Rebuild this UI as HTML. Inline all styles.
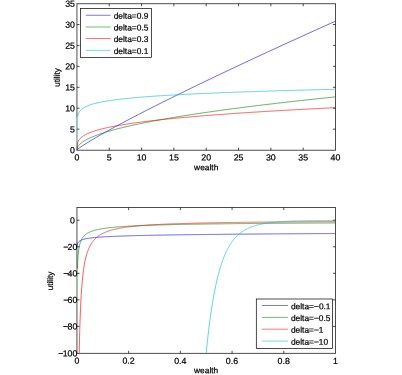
<!DOCTYPE html>
<html><head><meta charset="utf-8"><title>utility</title>
<style>html,body{margin:0;padding:0;background:#fff}svg{display:block}</style></head>
<body>
<svg width="402" height="375" viewBox="0 0 402 375">
<defs><filter id="gs" x="0" y="0" width="402" height="375" filterUnits="userSpaceOnUse" color-interpolation-filters="sRGB"><feColorMatrix type="saturate" values="0"/></filter></defs>
<rect width="402" height="375" fill="#fff"/>
<path d="M109.25 150.25 v-2.6 M109.25 3.7 v2.6 M141.57 150.25 v-2.6 M141.57 3.7 v2.6 M173.89 150.25 v-2.6 M173.89 3.7 v2.6 M206.22 150.25 v-2.6 M206.22 3.7 v2.6 M238.54 150.25 v-2.6 M238.54 3.7 v2.6 M270.86 150.25 v-2.6 M270.86 3.7 v2.6 M303.18 150.25 v-2.6 M303.18 3.7 v2.6 M76.93 129.16 h2.6 M335.5 129.16 h-2.6 M76.93 108.23 h2.6 M335.5 108.23 h-2.6 M76.93 87.29 h2.6 M335.5 87.29 h-2.6 M76.93 66.36 h2.6 M335.5 66.36 h-2.6 M76.93 45.42 h2.6 M335.5 45.42 h-2.6 M76.93 24.49 h2.6 M335.5 24.49 h-2.6" stroke="#000" stroke-width="0.7" fill="none"/>
<path d="M76.58 3.7 H335.85 M76.58 150.25 H335.85 M335.5 3.7 V150.25 M76.93 3.7 V117.61 M76.93 149.85 V150.25" stroke="#000" stroke-width="0.7" fill="none"/>
<path d="M76.93 149.85 L77.58 149.26 L78.22 148.76 L78.87 148.28 L79.52 147.81 L80.16 147.36 L80.81 146.91 L81.45 146.48 L82.1 146.04 L82.75 145.62 L83.39 145.2 L84.04 144.78 L84.69 144.37 L85.33 143.96 L85.98 143.55 L86.63 143.15 L87.27 142.75 L87.92 142.35 L88.57 141.95 L89.21 141.56 L89.86 141.17 L90.5 140.78 L91.15 140.39 L91.8 140 L92.44 139.62 L93.09 139.24 L93.74 138.86 L94.38 138.48 L95.03 138.1 L95.68 137.72 L96.32 137.34 L96.97 136.97 L97.62 136.6 L98.26 136.22 L98.91 135.85 L99.55 135.48 L100.2 135.12 L100.85 134.75 L101.49 134.38 L102.14 134.01 L102.79 133.65 L103.43 133.29 L104.08 132.92 L104.73 132.56 L105.37 132.2 L106.02 131.84 L106.67 131.48 L107.31 131.12 L107.96 130.76 L108.6 130.4 L109.25 130.05 L109.9 129.69 L110.54 129.33 L111.19 128.98 L111.84 128.63 L112.48 128.27 L113.13 127.92 L113.78 127.57 L114.42 127.22 L115.07 126.87 L115.72 126.51 L116.36 126.17 L117.01 125.82 L117.65 125.47 L118.3 125.12 L118.95 124.77 L119.59 124.42 L120.24 124.08 L120.89 123.73 L121.53 123.39 L122.18 123.04 L122.83 122.7 L123.47 122.35 L124.12 122.01 L124.77 121.67 L125.41 121.32 L126.06 120.98 L126.7 120.64 L127.35 120.3 L128 119.96 L128.64 119.62 L129.29 119.28 L129.94 118.94 L130.58 118.6 L131.23 118.26 L131.88 117.92 L132.52 117.59 L133.17 117.25 L133.82 116.91 L134.46 116.57 L135.11 116.24 L135.75 115.9 L136.4 115.57 L137.05 115.23 L137.69 114.9 L138.34 114.56 L138.99 114.23 L139.63 113.89 L140.28 113.56 L140.93 113.23 L141.57 112.89 L142.22 112.56 L142.87 112.23 L143.51 111.9 L144.16 111.57 L144.8 111.24 L145.45 110.91 L146.1 110.57 L146.74 110.24 L147.39 109.91 L148.04 109.58 L148.68 109.26 L149.33 108.93 L149.98 108.6 L150.62 108.27 L151.27 107.94 L151.92 107.61 L152.56 107.29 L153.21 106.96 L153.85 106.63 L154.5 106.3 L155.15 105.98 L155.79 105.65 L156.44 105.33 L157.09 105 L157.73 104.68 L158.38 104.35 L159.03 104.03 L159.67 103.7 L160.32 103.38 L160.97 103.05 L161.61 102.73 L162.26 102.4 L162.9 102.08 L163.55 101.76 L164.2 101.44 L164.84 101.11 L165.49 100.79 L166.14 100.47 L166.78 100.15 L167.43 99.82 L168.08 99.5 L168.72 99.18 L169.37 98.86 L170.02 98.54 L170.66 98.22 L171.31 97.9 L171.95 97.58 L172.6 97.26 L173.25 96.94 L173.89 96.62 L174.54 96.3 L175.19 95.98 L175.83 95.66 L176.48 95.34 L177.13 95.03 L177.77 94.71 L178.42 94.39 L179.07 94.07 L179.71 93.75 L180.36 93.44 L181 93.12 L181.65 92.8 L182.3 92.49 L182.94 92.17 L183.59 91.85 L184.24 91.54 L184.88 91.22 L185.53 90.9 L186.18 90.59 L186.82 90.27 L187.47 89.96 L188.12 89.64 L188.76 89.33 L189.41 89.01 L190.05 88.7 L190.7 88.38 L191.35 88.07 L191.99 87.76 L192.64 87.44 L193.29 87.13 L193.93 86.81 L194.58 86.5 L195.23 86.19 L195.87 85.87 L196.52 85.56 L197.17 85.25 L197.81 84.94 L198.46 84.62 L199.1 84.31 L199.75 84 L200.4 83.69 L201.04 83.38 L201.69 83.07 L202.34 82.75 L202.98 82.44 L203.63 82.13 L204.28 81.82 L204.92 81.51 L205.57 81.2 L206.22 80.89 L206.86 80.58 L207.51 80.27 L208.15 79.96 L208.8 79.65 L209.45 79.34 L210.09 79.03 L210.74 78.72 L211.39 78.41 L212.03 78.1 L212.68 77.79 L213.33 77.48 L213.97 77.18 L214.62 76.87 L215.26 76.56 L215.91 76.25 L216.56 75.94 L217.2 75.64 L217.85 75.33 L218.5 75.02 L219.14 74.71 L219.79 74.41 L220.44 74.1 L221.08 73.79 L221.73 73.48 L222.38 73.18 L223.02 72.87 L223.67 72.56 L224.31 72.26 L224.96 71.95 L225.61 71.65 L226.25 71.34 L226.9 71.03 L227.55 70.73 L228.19 70.42 L228.84 70.12 L229.49 69.81 L230.13 69.51 L230.78 69.2 L231.43 68.9 L232.07 68.59 L232.72 68.29 L233.36 67.98 L234.01 67.68 L234.66 67.37 L235.3 67.07 L235.95 66.77 L236.6 66.46 L237.24 66.16 L237.89 65.85 L238.54 65.55 L239.18 65.25 L239.83 64.94 L240.48 64.64 L241.12 64.34 L241.77 64.04 L242.41 63.73 L243.06 63.43 L243.71 63.13 L244.35 62.82 L245 62.52 L245.65 62.22 L246.29 61.92 L246.94 61.62 L247.59 61.31 L248.23 61.01 L248.88 60.71 L249.53 60.41 L250.17 60.11 L250.82 59.81 L251.46 59.51 L252.11 59.2 L252.76 58.9 L253.4 58.6 L254.05 58.3 L254.7 58 L255.34 57.7 L255.99 57.4 L256.64 57.1 L257.28 56.8 L257.93 56.5 L258.58 56.2 L259.22 55.9 L259.87 55.6 L260.51 55.3 L261.16 55 L261.81 54.7 L262.45 54.4 L263.1 54.1 L263.75 53.8 L264.39 53.5 L265.04 53.21 L265.69 52.91 L266.33 52.61 L266.98 52.31 L267.63 52.01 L268.27 51.71 L268.92 51.41 L269.56 51.12 L270.21 50.82 L270.86 50.52 L271.5 50.22 L272.15 49.92 L272.8 49.63 L273.44 49.33 L274.09 49.03 L274.74 48.73 L275.38 48.44 L276.03 48.14 L276.68 47.84 L277.32 47.54 L277.97 47.25 L278.61 46.95 L279.26 46.65 L279.91 46.36 L280.55 46.06 L281.2 45.76 L281.85 45.47 L282.49 45.17 L283.14 44.87 L283.79 44.58 L284.43 44.28 L285.08 43.99 L285.73 43.69 L286.37 43.4 L287.02 43.1 L287.66 42.8 L288.31 42.51 L288.96 42.21 L289.6 41.92 L290.25 41.62 L290.9 41.33 L291.54 41.03 L292.19 40.74 L292.84 40.44 L293.48 40.15 L294.13 39.85 L294.78 39.56 L295.42 39.26 L296.07 38.97 L296.71 38.68 L297.36 38.38 L298.01 38.09 L298.65 37.79 L299.3 37.5 L299.95 37.2 L300.59 36.91 L301.24 36.62 L301.89 36.32 L302.53 36.03 L303.18 35.74 L303.83 35.44 L304.47 35.15 L305.12 34.86 L305.76 34.56 L306.41 34.27 L307.06 33.98 L307.7 33.68 L308.35 33.39 L309 33.1 L309.64 32.81 L310.29 32.51 L310.94 32.22 L311.58 31.93 L312.23 31.64 L312.88 31.34 L313.52 31.05 L314.17 30.76 L314.81 30.47 L315.46 30.18 L316.11 29.88 L316.75 29.59 L317.4 29.3 L318.05 29.01 L318.69 28.72 L319.34 28.43 L319.99 28.13 L320.63 27.84 L321.28 27.55 L321.93 27.26 L322.57 26.97 L323.22 26.68 L323.86 26.39 L324.51 26.1 L325.16 25.81 L325.8 25.52 L326.45 25.23 L327.1 24.93 L327.74 24.64 L328.39 24.35 L329.04 24.06 L329.68 23.77 L330.33 23.48 L330.98 23.19 L331.62 22.9 L332.27 22.61 L332.91 22.32 L333.56 22.03 L334.21 21.74 L334.85 21.45 L335.5 21.16" stroke="#0000ff" stroke-width="0.65" fill="none" stroke-linejoin="round"/>
<path d="M76.93 149.85 L77.58 147.2 L78.22 146.1 L78.87 145.26 L79.52 144.55 L80.16 143.93 L80.81 143.36 L81.45 142.84 L82.1 142.36 L82.75 141.91 L83.39 141.48 L84.04 141.07 L84.69 140.68 L85.33 140.3 L85.98 139.94 L86.63 139.59 L87.27 139.26 L87.92 138.93 L88.57 138.61 L89.21 138.31 L89.86 138.01 L90.5 137.71 L91.15 137.43 L91.8 137.15 L92.44 136.88 L93.09 136.61 L93.74 136.35 L94.38 136.09 L95.03 135.84 L95.68 135.59 L96.32 135.35 L96.97 135.11 L97.62 134.87 L98.26 134.64 L98.91 134.41 L99.55 134.18 L100.2 133.96 L100.85 133.74 L101.49 133.53 L102.14 133.31 L102.79 133.1 L103.43 132.89 L104.08 132.69 L104.73 132.48 L105.37 132.28 L106.02 132.09 L106.67 131.89 L107.31 131.69 L107.96 131.5 L108.6 131.31 L109.25 131.12 L109.9 130.94 L110.54 130.75 L111.19 130.57 L111.84 130.39 L112.48 130.21 L113.13 130.03 L113.78 129.86 L114.42 129.68 L115.07 129.51 L115.72 129.34 L116.36 129.17 L117.01 129 L117.65 128.83 L118.3 128.66 L118.95 128.5 L119.59 128.34 L120.24 128.17 L120.89 128.01 L121.53 127.85 L122.18 127.69 L122.83 127.54 L123.47 127.38 L124.12 127.22 L124.77 127.07 L125.41 126.92 L126.06 126.76 L126.7 126.61 L127.35 126.46 L128 126.31 L128.64 126.16 L129.29 126.02 L129.94 125.87 L130.58 125.72 L131.23 125.58 L131.88 125.43 L132.52 125.29 L133.17 125.15 L133.82 125.01 L134.46 124.87 L135.11 124.73 L135.75 124.59 L136.4 124.45 L137.05 124.31 L137.69 124.17 L138.34 124.04 L138.99 123.9 L139.63 123.77 L140.28 123.63 L140.93 123.5 L141.57 123.37 L142.22 123.24 L142.87 123.1 L143.51 122.97 L144.16 122.84 L144.8 122.71 L145.45 122.59 L146.1 122.46 L146.74 122.33 L147.39 122.2 L148.04 122.08 L148.68 121.95 L149.33 121.82 L149.98 121.7 L150.62 121.58 L151.27 121.45 L151.92 121.33 L152.56 121.21 L153.21 121.08 L153.85 120.96 L154.5 120.84 L155.15 120.72 L155.79 120.6 L156.44 120.48 L157.09 120.36 L157.73 120.24 L158.38 120.12 L159.03 120.01 L159.67 119.89 L160.32 119.77 L160.97 119.66 L161.61 119.54 L162.26 119.42 L162.9 119.31 L163.55 119.2 L164.2 119.08 L164.84 118.97 L165.49 118.85 L166.14 118.74 L166.78 118.63 L167.43 118.52 L168.08 118.4 L168.72 118.29 L169.37 118.18 L170.02 118.07 L170.66 117.96 L171.31 117.85 L171.95 117.74 L172.6 117.63 L173.25 117.52 L173.89 117.42 L174.54 117.31 L175.19 117.2 L175.83 117.09 L176.48 116.99 L177.13 116.88 L177.77 116.77 L178.42 116.67 L179.07 116.56 L179.71 116.46 L180.36 116.35 L181 116.25 L181.65 116.14 L182.3 116.04 L182.94 115.94 L183.59 115.83 L184.24 115.73 L184.88 115.63 L185.53 115.53 L186.18 115.42 L186.82 115.32 L187.47 115.22 L188.12 115.12 L188.76 115.02 L189.41 114.92 L190.05 114.82 L190.7 114.72 L191.35 114.62 L191.99 114.52 L192.64 114.42 L193.29 114.32 L193.93 114.22 L194.58 114.12 L195.23 114.03 L195.87 113.93 L196.52 113.83 L197.17 113.73 L197.81 113.64 L198.46 113.54 L199.1 113.44 L199.75 113.35 L200.4 113.25 L201.04 113.16 L201.69 113.06 L202.34 112.97 L202.98 112.87 L203.63 112.78 L204.28 112.68 L204.92 112.59 L205.57 112.49 L206.22 112.4 L206.86 112.31 L207.51 112.21 L208.15 112.12 L208.8 112.03 L209.45 111.93 L210.09 111.84 L210.74 111.75 L211.39 111.66 L212.03 111.57 L212.68 111.47 L213.33 111.38 L213.97 111.29 L214.62 111.2 L215.26 111.11 L215.91 111.02 L216.56 110.93 L217.2 110.84 L217.85 110.75 L218.5 110.66 L219.14 110.57 L219.79 110.48 L220.44 110.39 L221.08 110.3 L221.73 110.22 L222.38 110.13 L223.02 110.04 L223.67 109.95 L224.31 109.86 L224.96 109.78 L225.61 109.69 L226.25 109.6 L226.9 109.51 L227.55 109.43 L228.19 109.34 L228.84 109.25 L229.49 109.17 L230.13 109.08 L230.78 109 L231.43 108.91 L232.07 108.82 L232.72 108.74 L233.36 108.65 L234.01 108.57 L234.66 108.48 L235.3 108.4 L235.95 108.31 L236.6 108.23 L237.24 108.15 L237.89 108.06 L238.54 107.98 L239.18 107.89 L239.83 107.81 L240.48 107.73 L241.12 107.64 L241.77 107.56 L242.41 107.48 L243.06 107.4 L243.71 107.31 L244.35 107.23 L245 107.15 L245.65 107.07 L246.29 106.99 L246.94 106.9 L247.59 106.82 L248.23 106.74 L248.88 106.66 L249.53 106.58 L250.17 106.5 L250.82 106.42 L251.46 106.34 L252.11 106.26 L252.76 106.18 L253.4 106.09 L254.05 106.01 L254.7 105.93 L255.34 105.86 L255.99 105.78 L256.64 105.7 L257.28 105.62 L257.93 105.54 L258.58 105.46 L259.22 105.38 L259.87 105.3 L260.51 105.22 L261.16 105.14 L261.81 105.07 L262.45 104.99 L263.1 104.91 L263.75 104.83 L264.39 104.75 L265.04 104.68 L265.69 104.6 L266.33 104.52 L266.98 104.44 L267.63 104.37 L268.27 104.29 L268.92 104.21 L269.56 104.14 L270.21 104.06 L270.86 103.98 L271.5 103.91 L272.15 103.83 L272.8 103.75 L273.44 103.68 L274.09 103.6 L274.74 103.53 L275.38 103.45 L276.03 103.37 L276.68 103.3 L277.32 103.22 L277.97 103.15 L278.61 103.07 L279.26 103 L279.91 102.92 L280.55 102.85 L281.2 102.77 L281.85 102.7 L282.49 102.63 L283.14 102.55 L283.79 102.48 L284.43 102.4 L285.08 102.33 L285.73 102.26 L286.37 102.18 L287.02 102.11 L287.66 102.04 L288.31 101.96 L288.96 101.89 L289.6 101.82 L290.25 101.74 L290.9 101.67 L291.54 101.6 L292.19 101.53 L292.84 101.45 L293.48 101.38 L294.13 101.31 L294.78 101.24 L295.42 101.16 L296.07 101.09 L296.71 101.02 L297.36 100.95 L298.01 100.88 L298.65 100.8 L299.3 100.73 L299.95 100.66 L300.59 100.59 L301.24 100.52 L301.89 100.45 L302.53 100.38 L303.18 100.31 L303.83 100.24 L304.47 100.17 L305.12 100.1 L305.76 100.02 L306.41 99.95 L307.06 99.88 L307.7 99.81 L308.35 99.74 L309 99.67 L309.64 99.6 L310.29 99.53 L310.94 99.46 L311.58 99.4 L312.23 99.33 L312.88 99.26 L313.52 99.19 L314.17 99.12 L314.81 99.05 L315.46 98.98 L316.11 98.91 L316.75 98.84 L317.4 98.77 L318.05 98.71 L318.69 98.64 L319.34 98.57 L319.99 98.5 L320.63 98.43 L321.28 98.36 L321.93 98.3 L322.57 98.23 L323.22 98.16 L323.86 98.09 L324.51 98.02 L325.16 97.96 L325.8 97.89 L326.45 97.82 L327.1 97.75 L327.74 97.69 L328.39 97.62 L329.04 97.55 L329.68 97.49 L330.33 97.42 L330.98 97.35 L331.62 97.29 L332.27 97.22 L332.91 97.15 L333.56 97.09 L334.21 97.02 L334.85 96.95 L335.5 96.89" stroke="#008000" stroke-width="0.65" fill="none" stroke-linejoin="round"/>
<path d="M76.93 149.85 L77.58 142.85 L78.22 141.24 L78.87 140.12 L79.52 139.25 L80.16 138.51 L80.81 137.88 L81.45 137.31 L82.1 136.8 L82.75 136.33 L83.39 135.89 L84.04 135.49 L84.69 135.11 L85.33 134.75 L85.98 134.41 L86.63 134.09 L87.27 133.78 L87.92 133.48 L88.57 133.2 L89.21 132.93 L89.86 132.67 L90.5 132.41 L91.15 132.17 L91.8 131.93 L92.44 131.7 L93.09 131.48 L93.74 131.26 L94.38 131.05 L95.03 130.84 L95.68 130.64 L96.32 130.44 L96.97 130.25 L97.62 130.06 L98.26 129.88 L98.91 129.7 L99.55 129.53 L100.2 129.35 L100.85 129.18 L101.49 129.02 L102.14 128.85 L102.79 128.69 L103.43 128.54 L104.08 128.38 L104.73 128.23 L105.37 128.08 L106.02 127.93 L106.67 127.79 L107.31 127.65 L107.96 127.51 L108.6 127.37 L109.25 127.23 L109.9 127.1 L110.54 126.96 L111.19 126.83 L111.84 126.7 L112.48 126.57 L113.13 126.45 L113.78 126.32 L114.42 126.2 L115.07 126.08 L115.72 125.96 L116.36 125.84 L117.01 125.72 L117.65 125.61 L118.3 125.49 L118.95 125.38 L119.59 125.27 L120.24 125.15 L120.89 125.04 L121.53 124.94 L122.18 124.83 L122.83 124.72 L123.47 124.62 L124.12 124.51 L124.77 124.41 L125.41 124.3 L126.06 124.2 L126.7 124.1 L127.35 124 L128 123.9 L128.64 123.81 L129.29 123.71 L129.94 123.61 L130.58 123.52 L131.23 123.42 L131.88 123.33 L132.52 123.23 L133.17 123.14 L133.82 123.05 L134.46 122.96 L135.11 122.87 L135.75 122.78 L136.4 122.69 L137.05 122.6 L137.69 122.51 L138.34 122.43 L138.99 122.34 L139.63 122.26 L140.28 122.17 L140.93 122.09 L141.57 122 L142.22 121.92 L142.87 121.84 L143.51 121.75 L144.16 121.67 L144.8 121.59 L145.45 121.51 L146.1 121.43 L146.74 121.35 L147.39 121.27 L148.04 121.19 L148.68 121.12 L149.33 121.04 L149.98 120.96 L150.62 120.89 L151.27 120.81 L151.92 120.73 L152.56 120.66 L153.21 120.58 L153.85 120.51 L154.5 120.44 L155.15 120.36 L155.79 120.29 L156.44 120.22 L157.09 120.15 L157.73 120.07 L158.38 120 L159.03 119.93 L159.67 119.86 L160.32 119.79 L160.97 119.72 L161.61 119.65 L162.26 119.58 L162.9 119.51 L163.55 119.45 L164.2 119.38 L164.84 119.31 L165.49 119.24 L166.14 119.18 L166.78 119.11 L167.43 119.04 L168.08 118.98 L168.72 118.91 L169.37 118.85 L170.02 118.78 L170.66 118.72 L171.31 118.65 L171.95 118.59 L172.6 118.53 L173.25 118.46 L173.89 118.4 L174.54 118.34 L175.19 118.27 L175.83 118.21 L176.48 118.15 L177.13 118.09 L177.77 118.03 L178.42 117.97 L179.07 117.91 L179.71 117.85 L180.36 117.78 L181 117.72 L181.65 117.67 L182.3 117.61 L182.94 117.55 L183.59 117.49 L184.24 117.43 L184.88 117.37 L185.53 117.31 L186.18 117.25 L186.82 117.2 L187.47 117.14 L188.12 117.08 L188.76 117.02 L189.41 116.97 L190.05 116.91 L190.7 116.85 L191.35 116.8 L191.99 116.74 L192.64 116.69 L193.29 116.63 L193.93 116.58 L194.58 116.52 L195.23 116.47 L195.87 116.41 L196.52 116.36 L197.17 116.3 L197.81 116.25 L198.46 116.2 L199.1 116.14 L199.75 116.09 L200.4 116.04 L201.04 115.98 L201.69 115.93 L202.34 115.88 L202.98 115.82 L203.63 115.77 L204.28 115.72 L204.92 115.67 L205.57 115.62 L206.22 115.56 L206.86 115.51 L207.51 115.46 L208.15 115.41 L208.8 115.36 L209.45 115.31 L210.09 115.26 L210.74 115.21 L211.39 115.16 L212.03 115.11 L212.68 115.06 L213.33 115.01 L213.97 114.96 L214.62 114.91 L215.26 114.86 L215.91 114.81 L216.56 114.76 L217.2 114.72 L217.85 114.67 L218.5 114.62 L219.14 114.57 L219.79 114.52 L220.44 114.47 L221.08 114.43 L221.73 114.38 L222.38 114.33 L223.02 114.28 L223.67 114.24 L224.31 114.19 L224.96 114.14 L225.61 114.1 L226.25 114.05 L226.9 114 L227.55 113.96 L228.19 113.91 L228.84 113.87 L229.49 113.82 L230.13 113.77 L230.78 113.73 L231.43 113.68 L232.07 113.64 L232.72 113.59 L233.36 113.55 L234.01 113.5 L234.66 113.46 L235.3 113.41 L235.95 113.37 L236.6 113.32 L237.24 113.28 L237.89 113.24 L238.54 113.19 L239.18 113.15 L239.83 113.1 L240.48 113.06 L241.12 113.02 L241.77 112.97 L242.41 112.93 L243.06 112.89 L243.71 112.84 L244.35 112.8 L245 112.76 L245.65 112.71 L246.29 112.67 L246.94 112.63 L247.59 112.59 L248.23 112.54 L248.88 112.5 L249.53 112.46 L250.17 112.42 L250.82 112.38 L251.46 112.33 L252.11 112.29 L252.76 112.25 L253.4 112.21 L254.05 112.17 L254.7 112.13 L255.34 112.09 L255.99 112.05 L256.64 112 L257.28 111.96 L257.93 111.92 L258.58 111.88 L259.22 111.84 L259.87 111.8 L260.51 111.76 L261.16 111.72 L261.81 111.68 L262.45 111.64 L263.1 111.6 L263.75 111.56 L264.39 111.52 L265.04 111.48 L265.69 111.44 L266.33 111.4 L266.98 111.36 L267.63 111.32 L268.27 111.29 L268.92 111.25 L269.56 111.21 L270.21 111.17 L270.86 111.13 L271.5 111.09 L272.15 111.05 L272.8 111.01 L273.44 110.98 L274.09 110.94 L274.74 110.9 L275.38 110.86 L276.03 110.82 L276.68 110.79 L277.32 110.75 L277.97 110.71 L278.61 110.67 L279.26 110.63 L279.91 110.6 L280.55 110.56 L281.2 110.52 L281.85 110.48 L282.49 110.45 L283.14 110.41 L283.79 110.37 L284.43 110.34 L285.08 110.3 L285.73 110.26 L286.37 110.23 L287.02 110.19 L287.66 110.15 L288.31 110.12 L288.96 110.08 L289.6 110.04 L290.25 110.01 L290.9 109.97 L291.54 109.93 L292.19 109.9 L292.84 109.86 L293.48 109.83 L294.13 109.79 L294.78 109.76 L295.42 109.72 L296.07 109.68 L296.71 109.65 L297.36 109.61 L298.01 109.58 L298.65 109.54 L299.3 109.51 L299.95 109.47 L300.59 109.44 L301.24 109.4 L301.89 109.37 L302.53 109.33 L303.18 109.3 L303.83 109.26 L304.47 109.23 L305.12 109.19 L305.76 109.16 L306.41 109.12 L307.06 109.09 L307.7 109.06 L308.35 109.02 L309 108.99 L309.64 108.95 L310.29 108.92 L310.94 108.89 L311.58 108.85 L312.23 108.82 L312.88 108.78 L313.52 108.75 L314.17 108.72 L314.81 108.68 L315.46 108.65 L316.11 108.62 L316.75 108.58 L317.4 108.55 L318.05 108.52 L318.69 108.48 L319.34 108.45 L319.99 108.42 L320.63 108.38 L321.28 108.35 L321.93 108.32 L322.57 108.28 L323.22 108.25 L323.86 108.22 L324.51 108.19 L325.16 108.15 L325.8 108.12 L326.45 108.09 L327.1 108.06 L327.74 108.02 L328.39 107.99 L329.04 107.96 L329.68 107.93 L330.33 107.9 L330.98 107.86 L331.62 107.83 L332.27 107.8 L332.91 107.77 L333.56 107.74 L334.21 107.7 L334.85 107.67 L335.5 107.64" stroke="#ff0000" stroke-width="0.65" fill="none" stroke-linejoin="round"/>
<path d="M77.58 116.59 L78.22 114.2 L78.87 112.73 L79.52 111.64 L80.16 110.78 L80.81 110.06 L81.45 109.45 L82.1 108.9 L82.75 108.42 L83.39 107.98 L84.04 107.58 L84.69 107.21 L85.33 106.87 L85.98 106.55 L86.63 106.25 L87.27 105.96 L87.92 105.7 L88.57 105.44 L89.21 105.2 L89.86 104.97 L90.5 104.75 L91.15 104.54 L91.8 104.34 L92.44 104.15 L93.09 103.96 L93.74 103.78 L94.38 103.61 L95.03 103.44 L95.68 103.27 L96.32 103.12 L96.97 102.96 L97.62 102.81 L98.26 102.67 L98.91 102.53 L99.55 102.39 L100.2 102.26 L100.85 102.13 L101.49 102 L102.14 101.87 L102.79 101.75 L103.43 101.63 L104.08 101.52 L104.73 101.4 L105.37 101.29 L106.02 101.18 L106.67 101.08 L107.31 100.97 L107.96 100.87 L108.6 100.77 L109.25 100.67 L109.9 100.57 L110.54 100.47 L111.19 100.38 L111.84 100.29 L112.48 100.2 L113.13 100.11 L113.78 100.02 L114.42 99.93 L115.07 99.85 L115.72 99.76 L116.36 99.68 L117.01 99.6 L117.65 99.52 L118.3 99.44 L118.95 99.36 L119.59 99.28 L120.24 99.21 L120.89 99.13 L121.53 99.06 L122.18 98.98 L122.83 98.91 L123.47 98.84 L124.12 98.77 L124.77 98.7 L125.41 98.63 L126.06 98.56 L126.7 98.5 L127.35 98.43 L128 98.37 L128.64 98.3 L129.29 98.24 L129.94 98.17 L130.58 98.11 L131.23 98.05 L131.88 97.99 L132.52 97.93 L133.17 97.87 L133.82 97.81 L134.46 97.75 L135.11 97.69 L135.75 97.63 L136.4 97.57 L137.05 97.52 L137.69 97.46 L138.34 97.41 L138.99 97.35 L139.63 97.3 L140.28 97.24 L140.93 97.19 L141.57 97.14 L142.22 97.08 L142.87 97.03 L143.51 96.98 L144.16 96.93 L144.8 96.88 L145.45 96.83 L146.1 96.78 L146.74 96.73 L147.39 96.68 L148.04 96.63 L148.68 96.58 L149.33 96.54 L149.98 96.49 L150.62 96.44 L151.27 96.4 L151.92 96.35 L152.56 96.3 L153.21 96.26 L153.85 96.21 L154.5 96.17 L155.15 96.12 L155.79 96.08 L156.44 96.03 L157.09 95.99 L157.73 95.95 L158.38 95.9 L159.03 95.86 L159.67 95.82 L160.32 95.78 L160.97 95.74 L161.61 95.69 L162.26 95.65 L162.9 95.61 L163.55 95.57 L164.2 95.53 L164.84 95.49 L165.49 95.45 L166.14 95.41 L166.78 95.37 L167.43 95.33 L168.08 95.29 L168.72 95.26 L169.37 95.22 L170.02 95.18 L170.66 95.14 L171.31 95.1 L171.95 95.07 L172.6 95.03 L173.25 94.99 L173.89 94.96 L174.54 94.92 L175.19 94.88 L175.83 94.85 L176.48 94.81 L177.13 94.78 L177.77 94.74 L178.42 94.7 L179.07 94.67 L179.71 94.63 L180.36 94.6 L181 94.57 L181.65 94.53 L182.3 94.5 L182.94 94.46 L183.59 94.43 L184.24 94.4 L184.88 94.36 L185.53 94.33 L186.18 94.3 L186.82 94.26 L187.47 94.23 L188.12 94.2 L188.76 94.17 L189.41 94.13 L190.05 94.1 L190.7 94.07 L191.35 94.04 L191.99 94.01 L192.64 93.98 L193.29 93.95 L193.93 93.91 L194.58 93.88 L195.23 93.85 L195.87 93.82 L196.52 93.79 L197.17 93.76 L197.81 93.73 L198.46 93.7 L199.1 93.67 L199.75 93.64 L200.4 93.61 L201.04 93.58 L201.69 93.55 L202.34 93.53 L202.98 93.5 L203.63 93.47 L204.28 93.44 L204.92 93.41 L205.57 93.38 L206.22 93.35 L206.86 93.33 L207.51 93.3 L208.15 93.27 L208.8 93.24 L209.45 93.21 L210.09 93.19 L210.74 93.16 L211.39 93.13 L212.03 93.1 L212.68 93.08 L213.33 93.05 L213.97 93.02 L214.62 93 L215.26 92.97 L215.91 92.94 L216.56 92.92 L217.2 92.89 L217.85 92.86 L218.5 92.84 L219.14 92.81 L219.79 92.79 L220.44 92.76 L221.08 92.74 L221.73 92.71 L222.38 92.68 L223.02 92.66 L223.67 92.63 L224.31 92.61 L224.96 92.58 L225.61 92.56 L226.25 92.53 L226.9 92.51 L227.55 92.48 L228.19 92.46 L228.84 92.44 L229.49 92.41 L230.13 92.39 L230.78 92.36 L231.43 92.34 L232.07 92.31 L232.72 92.29 L233.36 92.27 L234.01 92.24 L234.66 92.22 L235.3 92.2 L235.95 92.17 L236.6 92.15 L237.24 92.13 L237.89 92.1 L238.54 92.08 L239.18 92.06 L239.83 92.03 L240.48 92.01 L241.12 91.99 L241.77 91.96 L242.41 91.94 L243.06 91.92 L243.71 91.9 L244.35 91.87 L245 91.85 L245.65 91.83 L246.29 91.81 L246.94 91.79 L247.59 91.76 L248.23 91.74 L248.88 91.72 L249.53 91.7 L250.17 91.68 L250.82 91.65 L251.46 91.63 L252.11 91.61 L252.76 91.59 L253.4 91.57 L254.05 91.55 L254.7 91.53 L255.34 91.5 L255.99 91.48 L256.64 91.46 L257.28 91.44 L257.93 91.42 L258.58 91.4 L259.22 91.38 L259.87 91.36 L260.51 91.34 L261.16 91.32 L261.81 91.3 L262.45 91.28 L263.1 91.26 L263.75 91.24 L264.39 91.21 L265.04 91.19 L265.69 91.17 L266.33 91.15 L266.98 91.13 L267.63 91.11 L268.27 91.09 L268.92 91.07 L269.56 91.06 L270.21 91.04 L270.86 91.02 L271.5 91 L272.15 90.98 L272.8 90.96 L273.44 90.94 L274.09 90.92 L274.74 90.9 L275.38 90.88 L276.03 90.86 L276.68 90.84 L277.32 90.82 L277.97 90.8 L278.61 90.78 L279.26 90.77 L279.91 90.75 L280.55 90.73 L281.2 90.71 L281.85 90.69 L282.49 90.67 L283.14 90.65 L283.79 90.63 L284.43 90.62 L285.08 90.6 L285.73 90.58 L286.37 90.56 L287.02 90.54 L287.66 90.52 L288.31 90.51 L288.96 90.49 L289.6 90.47 L290.25 90.45 L290.9 90.43 L291.54 90.42 L292.19 90.4 L292.84 90.38 L293.48 90.36 L294.13 90.35 L294.78 90.33 L295.42 90.31 L296.07 90.29 L296.71 90.27 L297.36 90.26 L298.01 90.24 L298.65 90.22 L299.3 90.21 L299.95 90.19 L300.59 90.17 L301.24 90.15 L301.89 90.14 L302.53 90.12 L303.18 90.1 L303.83 90.08 L304.47 90.07 L305.12 90.05 L305.76 90.03 L306.41 90.02 L307.06 90 L307.7 89.98 L308.35 89.97 L309 89.95 L309.64 89.93 L310.29 89.92 L310.94 89.9 L311.58 89.88 L312.23 89.87 L312.88 89.85 L313.52 89.83 L314.17 89.82 L314.81 89.8 L315.46 89.79 L316.11 89.77 L316.75 89.75 L317.4 89.74 L318.05 89.72 L318.69 89.7 L319.34 89.69 L319.99 89.67 L320.63 89.66 L321.28 89.64 L321.93 89.62 L322.57 89.61 L323.22 89.59 L323.86 89.58 L324.51 89.56 L325.16 89.55 L325.8 89.53 L326.45 89.51 L327.1 89.5 L327.74 89.48 L328.39 89.47 L329.04 89.45 L329.68 89.44 L330.33 89.42 L330.98 89.41 L331.62 89.39 L332.27 89.37 L332.91 89.36 L333.56 89.34 L334.21 89.33 L334.85 89.31 L335.5 89.3" stroke="#00bfbf" stroke-width="0.65" fill="none" stroke-linejoin="round"/>
<rect x="80.45" y="8.5" width="71.05" height="48.9" fill="#fff" stroke="#000" stroke-width="0.7"/>
<path d="M85.7 15.25 h25" stroke="#0000ff" stroke-width="0.55"/>
<path d="M85.7 27 h25" stroke="#008000" stroke-width="0.55"/>
<path d="M85.7 38.5 h25" stroke="#ff0000" stroke-width="0.55"/>
<path d="M85.7 50.35 h25" stroke="#00bfbf" stroke-width="0.55"/>
<path d="M128.64 353.4 v-2.6 M128.64 207.5 v2.6 M180.36 353.4 v-2.6 M180.36 207.5 v2.6 M232.07 353.4 v-2.6 M232.07 207.5 v2.6 M283.79 353.4 v-2.6 M283.79 207.5 v2.6 M76.93 326.37 h2.6 M335.5 326.37 h-2.6 M76.93 299.85 h2.6 M335.5 299.85 h-2.6 M76.93 273.32 h2.6 M335.5 273.32 h-2.6 M76.93 246.79 h2.6 M335.5 246.79 h-2.6 M76.93 220.26 h2.6 M335.5 220.26 h-2.6" stroke="#000" stroke-width="0.7" fill="none"/>
<path d="M76.58 207.5 H335.85 M76.58 353.4 H335.85 M335.5 207.5 V353.4 M76.93 207.5 V268.68 M76.93 304.09 V353.4" stroke="#000" stroke-width="0.7" fill="none"/>
<path d="M76.89 246.73 L77.15 244.96 L77.41 243.97 L77.66 243.3 L77.92 242.79 L78.18 242.39 L78.44 242.05 L78.7 241.76 L78.96 241.51 L79.22 241.29 L79.47 241.09 L79.73 240.91 L79.99 240.74 L80.25 240.59 L80.51 240.45 L80.77 240.32 L81.03 240.2 L81.28 240.09 L81.54 239.98 L81.8 239.88 L82.06 239.78 L82.32 239.69 L82.58 239.61 L82.84 239.52 L83.09 239.44 L83.35 239.37 L83.61 239.3 L83.87 239.23 L84.13 239.16 L84.39 239.1 L84.65 239.04 L84.9 238.98 L85.16 238.92 L85.42 238.86 L85.68 238.81 L85.94 238.76 L86.2 238.71 L86.46 238.66 L86.71 238.61 L86.97 238.56 L87.23 238.52 L87.49 238.47 L87.75 238.43 L88.01 238.39 L88.27 238.35 L88.52 238.31 L88.78 238.27 L89.04 238.23 L89.3 238.2 L89.56 238.16 L89.82 238.12 L90.08 238.09 L90.33 238.06 L90.59 238.02 L90.85 237.99 L91.11 237.96 L91.37 237.93 L91.63 237.9 L91.89 237.87 L92.14 237.84 L92.4 237.81 L92.66 237.78 L92.92 237.75 L93.18 237.72 L93.44 237.7 L93.7 237.67 L93.95 237.64 L94.21 237.62 L94.47 237.59 L94.73 237.57 L94.99 237.54 L95.25 237.52 L95.51 237.5 L95.76 237.47 L96.02 237.45 L96.28 237.43 L96.54 237.4 L96.8 237.38 L97.06 237.36 L97.32 237.34 L97.57 237.32 L97.83 237.3 L98.09 237.28 L98.35 237.26 L98.61 237.24 L98.87 237.22 L99.13 237.2 L99.38 237.18 L99.64 237.16 L99.9 237.14 L100.16 237.12 L100.42 237.1 L100.68 237.08 L100.94 237.07 L101.19 237.05 L101.45 237.03 L101.71 237.01 L101.97 237 L102.23 236.98 L102.49 236.96 L102.75 236.94 L103 236.93 L103.26 236.91 L103.52 236.9 L103.78 236.88 L104.04 236.86 L104.3 236.85 L104.56 236.83 L104.81 236.82 L105.07 236.8 L105.33 236.79 L105.59 236.77 L105.85 236.76 L106.11 236.74 L106.37 236.73 L106.62 236.72 L106.88 236.7 L107.14 236.69 L107.4 236.67 L107.66 236.66 L107.92 236.65 L108.18 236.63 L108.43 236.62 L108.69 236.61 L108.95 236.59 L109.21 236.58 L109.47 236.57 L109.73 236.55 L109.99 236.54 L110.24 236.53 L110.5 236.52 L110.76 236.5 L111.02 236.49 L111.28 236.48 L111.54 236.47 L111.8 236.46 L112.05 236.44 L112.31 236.43 L112.57 236.42 L112.83 236.41 L113.09 236.4 L113.35 236.39 L113.61 236.37 L113.86 236.36 L114.12 236.35 L114.38 236.34 L114.64 236.33 L114.9 236.32 L115.16 236.31 L115.42 236.3 L115.67 236.29 L115.93 236.28 L116.19 236.27 L116.45 236.26 L116.71 236.25 L116.97 236.24 L117.23 236.23 L117.48 236.21 L117.74 236.2 L118 236.19 L118.26 236.18 L118.52 236.18 L118.78 236.17 L119.04 236.16 L119.29 236.15 L119.55 236.14 L119.81 236.13 L120.07 236.12 L120.33 236.11 L120.59 236.1 L120.85 236.09 L121.1 236.08 L121.36 236.07 L121.62 236.06 L121.88 236.05 L122.14 236.04 L122.4 236.03 L122.66 236.03 L122.91 236.02 L123.17 236.01 L123.43 236 L123.69 235.99 L123.95 235.98 L124.21 235.97 L124.47 235.97 L124.72 235.96 L124.98 235.95 L125.24 235.94 L125.5 235.93 L125.76 235.92 L126.02 235.92 L126.28 235.91 L126.53 235.9 L126.79 235.89 L127.05 235.88 L127.31 235.87 L127.57 235.87 L127.83 235.86 L128.09 235.85 L128.34 235.84 L128.6 235.84 L128.86 235.83 L129.12 235.82 L129.38 235.81 L129.64 235.8 L129.9 235.8 L130.15 235.79 L130.41 235.78 L130.67 235.77 L130.93 235.77 L131.19 235.76 L131.45 235.75 L131.71 235.75 L131.96 235.74 L132.22 235.73 L132.48 235.72 L132.74 235.72 L133 235.71 L133.26 235.7 L133.52 235.7 L133.77 235.69 L134.03 235.68 L134.29 235.67 L134.55 235.67 L134.81 235.66 L135.07 235.65 L135.33 235.65 L135.58 235.64 L135.84 235.63 L136.1 235.63 L136.36 235.62 L136.62 235.61 L136.88 235.61 L137.14 235.6 L137.39 235.59 L137.65 235.59 L137.91 235.58 L138.17 235.57 L138.43 235.57 L138.69 235.56 L138.95 235.56 L139.2 235.55 L139.46 235.54 L139.72 235.54 L139.98 235.53 L140.24 235.52 L140.5 235.52 L140.76 235.51 L141.01 235.51 L141.27 235.5 L141.53 235.49 L141.79 235.49 L142.05 235.48 L142.31 235.48 L142.57 235.47 L142.82 235.46 L143.08 235.46 L143.34 235.45 L143.6 235.45 L143.86 235.44 L144.12 235.43 L144.38 235.43 L144.63 235.42 L144.89 235.42 L145.15 235.41 L145.41 235.41 L145.67 235.4 L145.93 235.39 L146.19 235.39 L146.44 235.38 L146.7 235.38 L146.96 235.37 L147.22 235.37 L147.48 235.36 L147.74 235.36 L148 235.35 L148.25 235.34 L148.51 235.34 L148.77 235.33 L149.03 235.33 L149.29 235.32 L149.55 235.32 L149.81 235.31 L150.06 235.31 L150.32 235.3 L150.58 235.3 L150.84 235.29 L151.1 235.29 L151.36 235.28 L151.62 235.28 L151.87 235.27 L152.13 235.26 L152.39 235.26 L152.65 235.25 L152.91 235.25 L153.17 235.24 L153.43 235.24 L153.68 235.23 L153.94 235.23 L154.2 235.22 L154.46 235.22 L154.72 235.21 L154.98 235.21 L155.24 235.2 L155.49 235.2 L155.75 235.19 L156.01 235.19 L156.27 235.18 L156.53 235.18 L156.79 235.18 L157.05 235.17 L157.3 235.17 L157.56 235.16 L157.82 235.16 L158.08 235.15 L158.34 235.15 L158.6 235.14 L158.86 235.14 L159.11 235.13 L159.37 235.13 L159.63 235.12 L159.89 235.12 L160.15 235.11 L160.41 235.11 L160.67 235.11 L160.92 235.1 L161.18 235.1 L161.44 235.09 L161.7 235.09 L161.96 235.08 L162.22 235.08 L162.48 235.07 L162.73 235.07 L162.99 235.06 L163.25 235.06 L163.51 235.06 L163.77 235.05 L164.03 235.05 L164.29 235.04 L164.54 235.04 L164.8 235.03 L165.06 235.03 L165.32 235.03 L165.58 235.02 L165.84 235.02 L166.1 235.01 L166.35 235.01 L166.61 235 L166.87 235 L167.13 235 L167.39 234.99 L167.65 234.99 L167.91 234.98 L168.16 234.98 L168.42 234.97 L168.68 234.97 L168.94 234.97 L169.2 234.96 L169.46 234.96 L169.72 234.95 L169.97 234.95 L170.23 234.95 L170.49 234.94 L170.75 234.94 L171.01 234.93 L171.27 234.93 L171.53 234.93 L171.78 234.92 L172.04 234.92 L172.3 234.91 L172.56 234.91 L172.82 234.91 L173.08 234.9 L173.34 234.9 L173.59 234.89 L173.85 234.89 L174.11 234.89 L174.37 234.88 L174.63 234.88 L174.89 234.87 L175.15 234.87 L175.4 234.87 L175.66 234.86 L175.92 234.86 L176.18 234.86 L176.44 234.85 L176.7 234.85 L176.96 234.84 L177.21 234.84 L177.47 234.84 L177.73 234.83 L177.99 234.83 L178.25 234.83 L178.51 234.82 L178.77 234.82 L179.02 234.81 L179.28 234.81 L179.54 234.81 L179.8 234.8 L180.06 234.8 L180.32 234.8 L180.58 234.79 L180.83 234.79 L181.09 234.79 L181.35 234.78 L181.61 234.78 L181.87 234.77 L182.13 234.77 L182.39 234.77 L182.64 234.76 L182.9 234.76 L183.16 234.76 L183.42 234.75 L183.68 234.75 L183.94 234.75 L184.2 234.74 L184.45 234.74 L184.71 234.74 L184.97 234.73 L185.23 234.73 L185.49 234.73 L185.75 234.72 L186.01 234.72 L186.26 234.72 L186.52 234.71 L186.78 234.71 L187.04 234.71 L187.3 234.7 L187.56 234.7 L187.82 234.7 L188.07 234.69 L188.33 234.69 L188.59 234.69 L188.85 234.68 L189.11 234.68 L189.37 234.68 L189.63 234.67 L189.88 234.67 L190.14 234.67 L190.4 234.66 L190.66 234.66 L190.92 234.66 L191.18 234.65 L191.44 234.65 L191.69 234.65 L191.95 234.64 L192.21 234.64 L192.47 234.64 L192.73 234.63 L192.99 234.63 L193.25 234.63 L193.5 234.62 L193.76 234.62 L194.02 234.62 L194.28 234.61 L194.54 234.61 L194.8 234.61 L195.06 234.6 L195.31 234.6 L195.57 234.6 L195.83 234.6 L196.09 234.59 L196.35 234.59 L196.61 234.59 L196.87 234.58 L197.12 234.58 L197.38 234.58 L197.64 234.57 L197.9 234.57 L198.16 234.57 L198.42 234.56 L198.68 234.56 L198.93 234.56 L199.19 234.56 L199.45 234.55 L199.71 234.55 L199.97 234.55 L200.23 234.54 L200.49 234.54 L200.74 234.54 L201 234.53 L201.26 234.53 L201.52 234.53 L201.78 234.53 L202.04 234.52 L202.3 234.52 L202.55 234.52 L202.81 234.51 L203.07 234.51 L203.33 234.51 L203.59 234.51 L203.85 234.5 L204.11 234.5 L204.36 234.5 L204.62 234.49 L204.88 234.49 L205.14 234.49 L205.4 234.48 L205.66 234.48 L205.91 234.48 L206.17 234.48 L206.43 234.47 L206.69 234.47 L206.95 234.47 L207.21 234.47 L207.47 234.46 L207.72 234.46 L207.98 234.46 L208.24 234.45 L208.5 234.45 L208.76 234.45 L209.02 234.45 L209.28 234.44 L209.53 234.44 L209.79 234.44 L210.05 234.43 L210.31 234.43 L210.57 234.43 L210.83 234.43 L211.09 234.42 L211.34 234.42 L211.6 234.42 L211.86 234.42 L212.12 234.41 L212.38 234.41 L212.64 234.41 L212.9 234.4 L213.15 234.4 L213.41 234.4 L213.67 234.4 L213.93 234.39 L214.19 234.39 L214.45 234.39 L214.71 234.39 L214.96 234.38 L215.22 234.38 L215.48 234.38 L215.74 234.38 L216 234.37 L216.26 234.37 L216.52 234.37 L216.77 234.37 L217.03 234.36 L217.29 234.36 L217.55 234.36 L217.81 234.35 L218.07 234.35 L218.33 234.35 L218.58 234.35 L218.84 234.34 L219.1 234.34 L219.36 234.34 L219.62 234.34 L219.88 234.33 L220.14 234.33 L220.39 234.33 L220.65 234.33 L220.91 234.32 L221.17 234.32 L221.43 234.32 L221.69 234.32 L221.95 234.31 L222.2 234.31 L222.46 234.31 L222.72 234.31 L222.98 234.3 L223.24 234.3 L223.5 234.3 L223.76 234.3 L224.01 234.29 L224.27 234.29 L224.53 234.29 L224.79 234.29 L225.05 234.28 L225.31 234.28 L225.57 234.28 L225.82 234.28 L226.08 234.27 L226.34 234.27 L226.6 234.27 L226.86 234.27 L227.12 234.26 L227.38 234.26 L227.63 234.26 L227.89 234.26 L228.15 234.26 L228.41 234.25 L228.67 234.25 L228.93 234.25 L229.19 234.25 L229.44 234.24 L229.7 234.24 L229.96 234.24 L230.22 234.24 L230.48 234.23 L230.74 234.23 L231 234.23 L231.25 234.23 L231.51 234.22 L231.77 234.22 L232.03 234.22 L232.29 234.22 L232.55 234.22 L232.81 234.21 L233.06 234.21 L233.32 234.21 L233.58 234.21 L233.84 234.2 L234.1 234.2 L234.36 234.2 L234.62 234.2 L234.87 234.19 L235.13 234.19 L235.39 234.19 L235.65 234.19 L235.91 234.19 L236.17 234.18 L236.43 234.18 L236.68 234.18 L236.94 234.18 L237.2 234.17 L237.46 234.17 L237.72 234.17 L237.98 234.17 L238.24 234.17 L238.49 234.16 L238.75 234.16 L239.01 234.16 L239.27 234.16 L239.53 234.15 L239.79 234.15 L240.05 234.15 L240.3 234.15 L240.56 234.15 L240.82 234.14 L241.08 234.14 L241.34 234.14 L241.6 234.14 L241.86 234.13 L242.11 234.13 L242.37 234.13 L242.63 234.13 L242.89 234.13 L243.15 234.12 L243.41 234.12 L243.67 234.12 L243.92 234.12 L244.18 234.12 L244.44 234.11 L244.7 234.11 L244.96 234.11 L245.22 234.11 L245.48 234.1 L245.73 234.1 L245.99 234.1 L246.25 234.1 L246.51 234.1 L246.77 234.09 L247.03 234.09 L247.29 234.09 L247.54 234.09 L247.8 234.09 L248.06 234.08 L248.32 234.08 L248.58 234.08 L248.84 234.08 L249.1 234.08 L249.35 234.07 L249.61 234.07 L249.87 234.07 L250.13 234.07 L250.39 234.07 L250.65 234.06 L250.91 234.06 L251.16 234.06 L251.42 234.06 L251.68 234.05 L251.94 234.05 L252.2 234.05 L252.46 234.05 L252.72 234.05 L252.97 234.04 L253.23 234.04 L253.49 234.04 L253.75 234.04 L254.01 234.04 L254.27 234.03 L254.53 234.03 L254.78 234.03 L255.04 234.03 L255.3 234.03 L255.56 234.02 L255.82 234.02 L256.08 234.02 L256.34 234.02 L256.59 234.02 L256.85 234.01 L257.11 234.01 L257.37 234.01 L257.63 234.01 L257.89 234.01 L258.15 234 L258.4 234 L258.66 234 L258.92 234 L259.18 234 L259.44 234 L259.7 233.99 L259.96 233.99 L260.21 233.99 L260.47 233.99 L260.73 233.99 L260.99 233.98 L261.25 233.98 L261.51 233.98 L261.77 233.98 L262.02 233.98 L262.28 233.97 L262.54 233.97 L262.8 233.97 L263.06 233.97 L263.32 233.97 L263.58 233.96 L263.83 233.96 L264.09 233.96 L264.35 233.96 L264.61 233.96 L264.87 233.96 L265.13 233.95 L265.39 233.95 L265.64 233.95 L265.9 233.95 L266.16 233.95 L266.42 233.94 L266.68 233.94 L266.94 233.94 L267.2 233.94 L267.45 233.94 L267.71 233.93 L267.97 233.93 L268.23 233.93 L268.49 233.93 L268.75 233.93 L269.01 233.93 L269.26 233.92 L269.52 233.92 L269.78 233.92 L270.04 233.92 L270.3 233.92 L270.56 233.91 L270.82 233.91 L271.07 233.91 L271.33 233.91 L271.59 233.91 L271.85 233.91 L272.11 233.9 L272.37 233.9 L272.63 233.9 L272.88 233.9 L273.14 233.9 L273.4 233.89 L273.66 233.89 L273.92 233.89 L274.18 233.89 L274.44 233.89 L274.69 233.89 L274.95 233.88 L275.21 233.88 L275.47 233.88 L275.73 233.88 L275.99 233.88 L276.25 233.87 L276.5 233.87 L276.76 233.87 L277.02 233.87 L277.28 233.87 L277.54 233.87 L277.8 233.86 L278.06 233.86 L278.31 233.86 L278.57 233.86 L278.83 233.86 L279.09 233.86 L279.35 233.85 L279.61 233.85 L279.87 233.85 L280.12 233.85 L280.38 233.85 L280.64 233.85 L280.9 233.84 L281.16 233.84 L281.42 233.84 L281.68 233.84 L281.93 233.84 L282.19 233.84 L282.45 233.83 L282.71 233.83 L282.97 233.83 L283.23 233.83 L283.49 233.83 L283.74 233.82 L284 233.82 L284.26 233.82 L284.52 233.82 L284.78 233.82 L285.04 233.82 L285.3 233.81 L285.55 233.81 L285.81 233.81 L286.07 233.81 L286.33 233.81 L286.59 233.81 L286.85 233.8 L287.11 233.8 L287.36 233.8 L287.62 233.8 L287.88 233.8 L288.14 233.8 L288.4 233.79 L288.66 233.79 L288.92 233.79 L289.17 233.79 L289.43 233.79 L289.69 233.79 L289.95 233.78 L290.21 233.78 L290.47 233.78 L290.73 233.78 L290.98 233.78 L291.24 233.78 L291.5 233.78 L291.76 233.77 L292.02 233.77 L292.28 233.77 L292.54 233.77 L292.79 233.77 L293.05 233.77 L293.31 233.76 L293.57 233.76 L293.83 233.76 L294.09 233.76 L294.35 233.76 L294.6 233.76 L294.86 233.75 L295.12 233.75 L295.38 233.75 L295.64 233.75 L295.9 233.75 L296.16 233.75 L296.41 233.74 L296.67 233.74 L296.93 233.74 L297.19 233.74 L297.45 233.74 L297.71 233.74 L297.97 233.74 L298.22 233.73 L298.48 233.73 L298.74 233.73 L299 233.73 L299.26 233.73 L299.52 233.73 L299.78 233.72 L300.03 233.72 L300.29 233.72 L300.55 233.72 L300.81 233.72 L301.07 233.72 L301.33 233.71 L301.59 233.71 L301.84 233.71 L302.1 233.71 L302.36 233.71 L302.62 233.71 L302.88 233.71 L303.14 233.7 L303.4 233.7 L303.65 233.7 L303.91 233.7 L304.17 233.7 L304.43 233.7 L304.69 233.69 L304.95 233.69 L305.21 233.69 L305.46 233.69 L305.72 233.69 L305.98 233.69 L306.24 233.69 L306.5 233.68 L306.76 233.68 L307.02 233.68 L307.27 233.68 L307.53 233.68 L307.79 233.68 L308.05 233.68 L308.31 233.67 L308.57 233.67 L308.83 233.67 L309.08 233.67 L309.34 233.67 L309.6 233.67 L309.86 233.66 L310.12 233.66 L310.38 233.66 L310.64 233.66 L310.89 233.66 L311.15 233.66 L311.41 233.66 L311.67 233.65 L311.93 233.65 L312.19 233.65 L312.45 233.65 L312.7 233.65 L312.96 233.65 L313.22 233.65 L313.48 233.64 L313.74 233.64 L314 233.64 L314.26 233.64 L314.51 233.64 L314.77 233.64 L315.03 233.64 L315.29 233.63 L315.55 233.63 L315.81 233.63 L316.07 233.63 L316.32 233.63 L316.58 233.63 L316.84 233.63 L317.1 233.62 L317.36 233.62 L317.62 233.62 L317.88 233.62 L318.13 233.62 L318.39 233.62 L318.65 233.62 L318.91 233.61 L319.17 233.61 L319.43 233.61 L319.69 233.61 L319.94 233.61 L320.2 233.61 L320.46 233.61 L320.72 233.6 L320.98 233.6 L321.24 233.6 L321.5 233.6 L321.75 233.6 L322.01 233.6 L322.27 233.6 L322.53 233.59 L322.79 233.59 L323.05 233.59 L323.31 233.59 L323.56 233.59 L323.82 233.59 L324.08 233.59 L324.34 233.58 L324.6 233.58 L324.86 233.58 L325.12 233.58 L325.37 233.58 L325.63 233.58 L325.89 233.58 L326.15 233.57 L326.41 233.57 L326.67 233.57 L326.93 233.57 L327.18 233.57 L327.44 233.57 L327.7 233.57 L327.96 233.56 L328.22 233.56 L328.48 233.56 L328.74 233.56 L328.99 233.56 L329.25 233.56 L329.51 233.56 L329.77 233.56 L330.03 233.55 L330.29 233.55 L330.55 233.55 L330.8 233.55 L331.06 233.55 L331.32 233.55 L331.58 233.55 L331.84 233.54 L332.1 233.54 L332.36 233.54 L332.61 233.54 L332.87 233.54 L333.13 233.54 L333.39 233.54 L333.65 233.54 L333.91 233.53 L334.17 233.53 L334.42 233.53 L334.68 233.53 L334.94 233.53 L335.2 233.53" stroke="#0000ff" stroke-width="0.65" fill="none" stroke-linejoin="round"/>
<path d="M77.41 268.7 L77.66 262.21 L77.92 257.78 L78.18 254.51 L78.44 251.97 L78.7 249.92 L78.96 248.23 L79.22 246.79 L79.47 245.56 L79.73 244.48 L79.99 243.53 L80.25 242.68 L80.51 241.92 L80.77 241.24 L81.03 240.61 L81.28 240.04 L81.54 239.51 L81.8 239.02 L82.06 238.57 L82.32 238.15 L82.58 237.76 L82.84 237.39 L83.09 237.04 L83.35 236.72 L83.61 236.41 L83.87 236.12 L84.13 235.84 L84.39 235.58 L84.65 235.33 L84.9 235.09 L85.16 234.87 L85.42 234.65 L85.68 234.44 L85.94 234.24 L86.2 234.05 L86.46 233.87 L86.71 233.7 L86.97 233.53 L87.23 233.36 L87.49 233.21 L87.75 233.06 L88.01 232.91 L88.27 232.77 L88.52 232.63 L88.78 232.5 L89.04 232.37 L89.3 232.25 L89.56 232.13 L89.82 232.01 L90.08 231.9 L90.33 231.79 L90.59 231.68 L90.85 231.57 L91.11 231.47 L91.37 231.37 L91.63 231.28 L91.89 231.18 L92.14 231.09 L92.4 231 L92.66 230.92 L92.92 230.83 L93.18 230.75 L93.44 230.67 L93.7 230.59 L93.95 230.51 L94.21 230.44 L94.47 230.36 L94.73 230.29 L94.99 230.22 L95.25 230.15 L95.51 230.08 L95.76 230.02 L96.02 229.95 L96.28 229.89 L96.54 229.82 L96.8 229.76 L97.06 229.7 L97.32 229.64 L97.57 229.58 L97.83 229.53 L98.09 229.47 L98.35 229.42 L98.61 229.36 L98.87 229.31 L99.13 229.26 L99.38 229.21 L99.64 229.16 L99.9 229.11 L100.16 229.06 L100.42 229.01 L100.68 228.96 L100.94 228.92 L101.19 228.87 L101.45 228.83 L101.71 228.78 L101.97 228.74 L102.23 228.69 L102.49 228.65 L102.75 228.61 L103 228.57 L103.26 228.53 L103.52 228.49 L103.78 228.45 L104.04 228.41 L104.3 228.37 L104.56 228.34 L104.81 228.3 L105.07 228.26 L105.33 228.23 L105.59 228.19 L105.85 228.16 L106.11 228.12 L106.37 228.09 L106.62 228.05 L106.88 228.02 L107.14 227.99 L107.4 227.95 L107.66 227.92 L107.92 227.89 L108.18 227.86 L108.43 227.83 L108.69 227.8 L108.95 227.77 L109.21 227.74 L109.47 227.71 L109.73 227.68 L109.99 227.65 L110.24 227.62 L110.5 227.59 L110.76 227.57 L111.02 227.54 L111.28 227.51 L111.54 227.48 L111.8 227.46 L112.05 227.43 L112.31 227.4 L112.57 227.38 L112.83 227.35 L113.09 227.33 L113.35 227.3 L113.61 227.28 L113.86 227.25 L114.12 227.23 L114.38 227.21 L114.64 227.18 L114.9 227.16 L115.16 227.14 L115.42 227.11 L115.67 227.09 L115.93 227.07 L116.19 227.05 L116.45 227.02 L116.71 227 L116.97 226.98 L117.23 226.96 L117.48 226.94 L117.74 226.92 L118 226.9 L118.26 226.87 L118.52 226.85 L118.78 226.83 L119.04 226.81 L119.29 226.79 L119.55 226.77 L119.81 226.75 L120.07 226.74 L120.33 226.72 L120.59 226.7 L120.85 226.68 L121.1 226.66 L121.36 226.64 L121.62 226.62 L121.88 226.6 L122.14 226.59 L122.4 226.57 L122.66 226.55 L122.91 226.53 L123.17 226.52 L123.43 226.5 L123.69 226.48 L123.95 226.46 L124.21 226.45 L124.47 226.43 L124.72 226.41 L124.98 226.4 L125.24 226.38 L125.5 226.37 L125.76 226.35 L126.02 226.33 L126.28 226.32 L126.53 226.3 L126.79 226.29 L127.05 226.27 L127.31 226.26 L127.57 226.24 L127.83 226.23 L128.09 226.21 L128.34 226.2 L128.6 226.18 L128.86 226.17 L129.12 226.15 L129.38 226.14 L129.64 226.12 L129.9 226.11 L130.15 226.09 L130.41 226.08 L130.67 226.07 L130.93 226.05 L131.19 226.04 L131.45 226.02 L131.71 226.01 L131.96 226 L132.22 225.98 L132.48 225.97 L132.74 225.96 L133 225.95 L133.26 225.93 L133.52 225.92 L133.77 225.91 L134.03 225.89 L134.29 225.88 L134.55 225.87 L134.81 225.86 L135.07 225.84 L135.33 225.83 L135.58 225.82 L135.84 225.81 L136.1 225.79 L136.36 225.78 L136.62 225.77 L136.88 225.76 L137.14 225.75 L137.39 225.74 L137.65 225.72 L137.91 225.71 L138.17 225.7 L138.43 225.69 L138.69 225.68 L138.95 225.67 L139.2 225.66 L139.46 225.64 L139.72 225.63 L139.98 225.62 L140.24 225.61 L140.5 225.6 L140.76 225.59 L141.01 225.58 L141.27 225.57 L141.53 225.56 L141.79 225.55 L142.05 225.54 L142.31 225.53 L142.57 225.52 L142.82 225.51 L143.08 225.5 L143.34 225.49 L143.6 225.48 L143.86 225.47 L144.12 225.46 L144.38 225.45 L144.63 225.44 L144.89 225.43 L145.15 225.42 L145.41 225.41 L145.67 225.4 L145.93 225.39 L146.19 225.38 L146.44 225.37 L146.7 225.36 L146.96 225.35 L147.22 225.34 L147.48 225.33 L147.74 225.32 L148 225.31 L148.25 225.3 L148.51 225.29 L148.77 225.29 L149.03 225.28 L149.29 225.27 L149.55 225.26 L149.81 225.25 L150.06 225.24 L150.32 225.23 L150.58 225.22 L150.84 225.22 L151.1 225.21 L151.36 225.2 L151.62 225.19 L151.87 225.18 L152.13 225.17 L152.39 225.16 L152.65 225.16 L152.91 225.15 L153.17 225.14 L153.43 225.13 L153.68 225.12 L153.94 225.11 L154.2 225.11 L154.46 225.1 L154.72 225.09 L154.98 225.08 L155.24 225.07 L155.49 225.07 L155.75 225.06 L156.01 225.05 L156.27 225.04 L156.53 225.04 L156.79 225.03 L157.05 225.02 L157.3 225.01 L157.56 225.01 L157.82 225 L158.08 224.99 L158.34 224.98 L158.6 224.98 L158.86 224.97 L159.11 224.96 L159.37 224.95 L159.63 224.95 L159.89 224.94 L160.15 224.93 L160.41 224.92 L160.67 224.92 L160.92 224.91 L161.18 224.9 L161.44 224.9 L161.7 224.89 L161.96 224.88 L162.22 224.87 L162.48 224.87 L162.73 224.86 L162.99 224.85 L163.25 224.85 L163.51 224.84 L163.77 224.83 L164.03 224.83 L164.29 224.82 L164.54 224.81 L164.8 224.81 L165.06 224.8 L165.32 224.79 L165.58 224.79 L165.84 224.78 L166.1 224.77 L166.35 224.77 L166.61 224.76 L166.87 224.75 L167.13 224.75 L167.39 224.74 L167.65 224.73 L167.91 224.73 L168.16 224.72 L168.42 224.72 L168.68 224.71 L168.94 224.7 L169.2 224.7 L169.46 224.69 L169.72 224.68 L169.97 224.68 L170.23 224.67 L170.49 224.67 L170.75 224.66 L171.01 224.65 L171.27 224.65 L171.53 224.64 L171.78 224.64 L172.04 224.63 L172.3 224.62 L172.56 224.62 L172.82 224.61 L173.08 224.61 L173.34 224.6 L173.59 224.6 L173.85 224.59 L174.11 224.58 L174.37 224.58 L174.63 224.57 L174.89 224.57 L175.15 224.56 L175.4 224.56 L175.66 224.55 L175.92 224.54 L176.18 224.54 L176.44 224.53 L176.7 224.53 L176.96 224.52 L177.21 224.52 L177.47 224.51 L177.73 224.51 L177.99 224.5 L178.25 224.5 L178.51 224.49 L178.77 224.48 L179.02 224.48 L179.28 224.47 L179.54 224.47 L179.8 224.46 L180.06 224.46 L180.32 224.45 L180.58 224.45 L180.83 224.44 L181.09 224.44 L181.35 224.43 L181.61 224.43 L181.87 224.42 L182.13 224.42 L182.39 224.41 L182.64 224.41 L182.9 224.4 L183.16 224.4 L183.42 224.39 L183.68 224.39 L183.94 224.38 L184.2 224.38 L184.45 224.37 L184.71 224.37 L184.97 224.36 L185.23 224.36 L185.49 224.35 L185.75 224.35 L186.01 224.34 L186.26 224.34 L186.52 224.33 L186.78 224.33 L187.04 224.32 L187.3 224.32 L187.56 224.31 L187.82 224.31 L188.07 224.3 L188.33 224.3 L188.59 224.29 L188.85 224.29 L189.11 224.29 L189.37 224.28 L189.63 224.28 L189.88 224.27 L190.14 224.27 L190.4 224.26 L190.66 224.26 L190.92 224.25 L191.18 224.25 L191.44 224.24 L191.69 224.24 L191.95 224.24 L192.21 224.23 L192.47 224.23 L192.73 224.22 L192.99 224.22 L193.25 224.21 L193.5 224.21 L193.76 224.2 L194.02 224.2 L194.28 224.2 L194.54 224.19 L194.8 224.19 L195.06 224.18 L195.31 224.18 L195.57 224.17 L195.83 224.17 L196.09 224.17 L196.35 224.16 L196.61 224.16 L196.87 224.15 L197.12 224.15 L197.38 224.15 L197.64 224.14 L197.9 224.14 L198.16 224.13 L198.42 224.13 L198.68 224.12 L198.93 224.12 L199.19 224.12 L199.45 224.11 L199.71 224.11 L199.97 224.1 L200.23 224.1 L200.49 224.1 L200.74 224.09 L201 224.09 L201.26 224.08 L201.52 224.08 L201.78 224.08 L202.04 224.07 L202.3 224.07 L202.55 224.06 L202.81 224.06 L203.07 224.06 L203.33 224.05 L203.59 224.05 L203.85 224.05 L204.11 224.04 L204.36 224.04 L204.62 224.03 L204.88 224.03 L205.14 224.03 L205.4 224.02 L205.66 224.02 L205.91 224.02 L206.17 224.01 L206.43 224.01 L206.69 224 L206.95 224 L207.21 224 L207.47 223.99 L207.72 223.99 L207.98 223.99 L208.24 223.98 L208.5 223.98 L208.76 223.97 L209.02 223.97 L209.28 223.97 L209.53 223.96 L209.79 223.96 L210.05 223.96 L210.31 223.95 L210.57 223.95 L210.83 223.95 L211.09 223.94 L211.34 223.94 L211.6 223.94 L211.86 223.93 L212.12 223.93 L212.38 223.92 L212.64 223.92 L212.9 223.92 L213.15 223.91 L213.41 223.91 L213.67 223.91 L213.93 223.9 L214.19 223.9 L214.45 223.9 L214.71 223.89 L214.96 223.89 L215.22 223.89 L215.48 223.88 L215.74 223.88 L216 223.88 L216.26 223.87 L216.52 223.87 L216.77 223.87 L217.03 223.86 L217.29 223.86 L217.55 223.86 L217.81 223.85 L218.07 223.85 L218.33 223.85 L218.58 223.84 L218.84 223.84 L219.1 223.84 L219.36 223.83 L219.62 223.83 L219.88 223.83 L220.14 223.82 L220.39 223.82 L220.65 223.82 L220.91 223.81 L221.17 223.81 L221.43 223.81 L221.69 223.81 L221.95 223.8 L222.2 223.8 L222.46 223.8 L222.72 223.79 L222.98 223.79 L223.24 223.79 L223.5 223.78 L223.76 223.78 L224.01 223.78 L224.27 223.77 L224.53 223.77 L224.79 223.77 L225.05 223.76 L225.31 223.76 L225.57 223.76 L225.82 223.76 L226.08 223.75 L226.34 223.75 L226.6 223.75 L226.86 223.74 L227.12 223.74 L227.38 223.74 L227.63 223.73 L227.89 223.73 L228.15 223.73 L228.41 223.73 L228.67 223.72 L228.93 223.72 L229.19 223.72 L229.44 223.71 L229.7 223.71 L229.96 223.71 L230.22 223.71 L230.48 223.7 L230.74 223.7 L231 223.7 L231.25 223.69 L231.51 223.69 L231.77 223.69 L232.03 223.69 L232.29 223.68 L232.55 223.68 L232.81 223.68 L233.06 223.67 L233.32 223.67 L233.58 223.67 L233.84 223.67 L234.1 223.66 L234.36 223.66 L234.62 223.66 L234.87 223.65 L235.13 223.65 L235.39 223.65 L235.65 223.65 L235.91 223.64 L236.17 223.64 L236.43 223.64 L236.68 223.64 L236.94 223.63 L237.2 223.63 L237.46 223.63 L237.72 223.62 L237.98 223.62 L238.24 223.62 L238.49 223.62 L238.75 223.61 L239.01 223.61 L239.27 223.61 L239.53 223.61 L239.79 223.6 L240.05 223.6 L240.3 223.6 L240.56 223.6 L240.82 223.59 L241.08 223.59 L241.34 223.59 L241.6 223.58 L241.86 223.58 L242.11 223.58 L242.37 223.58 L242.63 223.57 L242.89 223.57 L243.15 223.57 L243.41 223.57 L243.67 223.56 L243.92 223.56 L244.18 223.56 L244.44 223.56 L244.7 223.55 L244.96 223.55 L245.22 223.55 L245.48 223.55 L245.73 223.54 L245.99 223.54 L246.25 223.54 L246.51 223.54 L246.77 223.53 L247.03 223.53 L247.29 223.53 L247.54 223.53 L247.8 223.52 L248.06 223.52 L248.32 223.52 L248.58 223.52 L248.84 223.51 L249.1 223.51 L249.35 223.51 L249.61 223.51 L249.87 223.5 L250.13 223.5 L250.39 223.5 L250.65 223.5 L250.91 223.49 L251.16 223.49 L251.42 223.49 L251.68 223.49 L251.94 223.49 L252.2 223.48 L252.46 223.48 L252.72 223.48 L252.97 223.48 L253.23 223.47 L253.49 223.47 L253.75 223.47 L254.01 223.47 L254.27 223.46 L254.53 223.46 L254.78 223.46 L255.04 223.46 L255.3 223.45 L255.56 223.45 L255.82 223.45 L256.08 223.45 L256.34 223.45 L256.59 223.44 L256.85 223.44 L257.11 223.44 L257.37 223.44 L257.63 223.43 L257.89 223.43 L258.15 223.43 L258.4 223.43 L258.66 223.43 L258.92 223.42 L259.18 223.42 L259.44 223.42 L259.7 223.42 L259.96 223.41 L260.21 223.41 L260.47 223.41 L260.73 223.41 L260.99 223.41 L261.25 223.4 L261.51 223.4 L261.77 223.4 L262.02 223.4 L262.28 223.39 L262.54 223.39 L262.8 223.39 L263.06 223.39 L263.32 223.39 L263.58 223.38 L263.83 223.38 L264.09 223.38 L264.35 223.38 L264.61 223.37 L264.87 223.37 L265.13 223.37 L265.39 223.37 L265.64 223.37 L265.9 223.36 L266.16 223.36 L266.42 223.36 L266.68 223.36 L266.94 223.36 L267.2 223.35 L267.45 223.35 L267.71 223.35 L267.97 223.35 L268.23 223.35 L268.49 223.34 L268.75 223.34 L269.01 223.34 L269.26 223.34 L269.52 223.33 L269.78 223.33 L270.04 223.33 L270.3 223.33 L270.56 223.33 L270.82 223.32 L271.07 223.32 L271.33 223.32 L271.59 223.32 L271.85 223.32 L272.11 223.31 L272.37 223.31 L272.63 223.31 L272.88 223.31 L273.14 223.31 L273.4 223.3 L273.66 223.3 L273.92 223.3 L274.18 223.3 L274.44 223.3 L274.69 223.29 L274.95 223.29 L275.21 223.29 L275.47 223.29 L275.73 223.29 L275.99 223.28 L276.25 223.28 L276.5 223.28 L276.76 223.28 L277.02 223.28 L277.28 223.27 L277.54 223.27 L277.8 223.27 L278.06 223.27 L278.31 223.27 L278.57 223.27 L278.83 223.26 L279.09 223.26 L279.35 223.26 L279.61 223.26 L279.87 223.26 L280.12 223.25 L280.38 223.25 L280.64 223.25 L280.9 223.25 L281.16 223.25 L281.42 223.24 L281.68 223.24 L281.93 223.24 L282.19 223.24 L282.45 223.24 L282.71 223.24 L282.97 223.23 L283.23 223.23 L283.49 223.23 L283.74 223.23 L284 223.23 L284.26 223.22 L284.52 223.22 L284.78 223.22 L285.04 223.22 L285.3 223.22 L285.55 223.21 L285.81 223.21 L286.07 223.21 L286.33 223.21 L286.59 223.21 L286.85 223.21 L287.11 223.2 L287.36 223.2 L287.62 223.2 L287.88 223.2 L288.14 223.2 L288.4 223.19 L288.66 223.19 L288.92 223.19 L289.17 223.19 L289.43 223.19 L289.69 223.19 L289.95 223.18 L290.21 223.18 L290.47 223.18 L290.73 223.18 L290.98 223.18 L291.24 223.18 L291.5 223.17 L291.76 223.17 L292.02 223.17 L292.28 223.17 L292.54 223.17 L292.79 223.16 L293.05 223.16 L293.31 223.16 L293.57 223.16 L293.83 223.16 L294.09 223.16 L294.35 223.15 L294.6 223.15 L294.86 223.15 L295.12 223.15 L295.38 223.15 L295.64 223.15 L295.9 223.14 L296.16 223.14 L296.41 223.14 L296.67 223.14 L296.93 223.14 L297.19 223.14 L297.45 223.13 L297.71 223.13 L297.97 223.13 L298.22 223.13 L298.48 223.13 L298.74 223.13 L299 223.12 L299.26 223.12 L299.52 223.12 L299.78 223.12 L300.03 223.12 L300.29 223.12 L300.55 223.11 L300.81 223.11 L301.07 223.11 L301.33 223.11 L301.59 223.11 L301.84 223.11 L302.1 223.1 L302.36 223.1 L302.62 223.1 L302.88 223.1 L303.14 223.1 L303.4 223.1 L303.65 223.09 L303.91 223.09 L304.17 223.09 L304.43 223.09 L304.69 223.09 L304.95 223.09 L305.21 223.09 L305.46 223.08 L305.72 223.08 L305.98 223.08 L306.24 223.08 L306.5 223.08 L306.76 223.08 L307.02 223.07 L307.27 223.07 L307.53 223.07 L307.79 223.07 L308.05 223.07 L308.31 223.07 L308.57 223.06 L308.83 223.06 L309.08 223.06 L309.34 223.06 L309.6 223.06 L309.86 223.06 L310.12 223.06 L310.38 223.05 L310.64 223.05 L310.89 223.05 L311.15 223.05 L311.41 223.05 L311.67 223.05 L311.93 223.04 L312.19 223.04 L312.45 223.04 L312.7 223.04 L312.96 223.04 L313.22 223.04 L313.48 223.04 L313.74 223.03 L314 223.03 L314.26 223.03 L314.51 223.03 L314.77 223.03 L315.03 223.03 L315.29 223.02 L315.55 223.02 L315.81 223.02 L316.07 223.02 L316.32 223.02 L316.58 223.02 L316.84 223.02 L317.1 223.01 L317.36 223.01 L317.62 223.01 L317.88 223.01 L318.13 223.01 L318.39 223.01 L318.65 223.01 L318.91 223 L319.17 223 L319.43 223 L319.69 223 L319.94 223 L320.2 223 L320.46 223 L320.72 222.99 L320.98 222.99 L321.24 222.99 L321.5 222.99 L321.75 222.99 L322.01 222.99 L322.27 222.99 L322.53 222.98 L322.79 222.98 L323.05 222.98 L323.31 222.98 L323.56 222.98 L323.82 222.98 L324.08 222.98 L324.34 222.97 L324.6 222.97 L324.86 222.97 L325.12 222.97 L325.37 222.97 L325.63 222.97 L325.89 222.97 L326.15 222.96 L326.41 222.96 L326.67 222.96 L326.93 222.96 L327.18 222.96 L327.44 222.96 L327.7 222.96 L327.96 222.95 L328.22 222.95 L328.48 222.95 L328.74 222.95 L328.99 222.95 L329.25 222.95 L329.51 222.95 L329.77 222.94 L330.03 222.94 L330.29 222.94 L330.55 222.94 L330.8 222.94 L331.06 222.94 L331.32 222.94 L331.58 222.94 L331.84 222.93 L332.1 222.93 L332.36 222.93 L332.61 222.93 L332.87 222.93 L333.13 222.93 L333.39 222.93 L333.65 222.92 L333.91 222.92 L334.17 222.92 L334.42 222.92 L334.68 222.92 L334.94 222.92 L335.2 222.92" stroke="#008000" stroke-width="0.65" fill="none" stroke-linejoin="round"/>
<path d="M79.22 352.9 L79.22 352.9 L79.47 340.84 L79.73 330.79 L79.99 322.29 L80.25 315 L80.51 308.69 L80.77 303.16 L81.03 298.29 L81.28 293.95 L81.54 290.07 L81.8 286.58 L82.06 283.42 L82.32 280.55 L82.58 277.93 L82.84 275.53 L83.09 273.32 L83.35 271.28 L83.61 269.39 L83.87 267.63 L84.13 266 L84.39 264.48 L84.65 263.05 L84.9 261.71 L85.16 260.46 L85.42 259.27 L85.68 258.16 L85.94 257.11 L86.2 256.11 L86.46 255.17 L86.71 254.27 L86.97 253.42 L87.23 252.61 L87.49 251.84 L87.75 251.11 L88.01 250.41 L88.27 249.74 L88.52 249.1 L88.78 248.48 L89.04 247.9 L89.3 247.33 L89.56 246.79 L89.82 246.27 L90.08 245.77 L90.33 245.29 L90.59 244.83 L90.85 244.38 L91.11 243.95 L91.37 243.53 L91.63 243.13 L91.89 242.74 L92.14 242.37 L92.4 242.01 L92.66 241.66 L92.92 241.32 L93.18 240.99 L93.44 240.67 L93.7 240.36 L93.95 240.06 L94.21 239.77 L94.47 239.49 L94.73 239.21 L94.99 238.94 L95.25 238.69 L95.51 238.43 L95.76 238.19 L96.02 237.95 L96.28 237.72 L96.54 237.49 L96.8 237.27 L97.06 237.05 L97.32 236.84 L97.57 236.64 L97.83 236.44 L98.09 236.24 L98.35 236.05 L98.61 235.87 L98.87 235.69 L99.13 235.51 L99.38 235.34 L99.64 235.17 L99.9 235 L100.16 234.84 L100.42 234.68 L100.68 234.53 L100.94 234.37 L101.19 234.23 L101.45 234.08 L101.71 233.94 L101.97 233.8 L102.23 233.66 L102.49 233.53 L102.75 233.4 L103 233.27 L103.26 233.14 L103.52 233.02 L103.78 232.9 L104.04 232.78 L104.3 232.66 L104.56 232.54 L104.81 232.43 L105.07 232.32 L105.33 232.21 L105.59 232.11 L105.85 232 L106.11 231.9 L106.37 231.8 L106.62 231.7 L106.88 231.6 L107.14 231.5 L107.4 231.41 L107.66 231.32 L107.92 231.23 L108.18 231.14 L108.43 231.05 L108.69 230.96 L108.95 230.87 L109.21 230.79 L109.47 230.71 L109.73 230.63 L109.99 230.55 L110.24 230.47 L110.5 230.39 L110.76 230.31 L111.02 230.24 L111.28 230.16 L111.54 230.09 L111.8 230.02 L112.05 229.95 L112.31 229.87 L112.57 229.81 L112.83 229.74 L113.09 229.67 L113.35 229.6 L113.61 229.54 L113.86 229.47 L114.12 229.41 L114.38 229.35 L114.64 229.29 L114.9 229.23 L115.16 229.17 L115.42 229.11 L115.67 229.05 L115.93 228.99 L116.19 228.93 L116.45 228.88 L116.71 228.82 L116.97 228.77 L117.23 228.71 L117.48 228.66 L117.74 228.61 L118 228.55 L118.26 228.5 L118.52 228.45 L118.78 228.4 L119.04 228.35 L119.29 228.3 L119.55 228.25 L119.81 228.21 L120.07 228.16 L120.33 228.11 L120.59 228.07 L120.85 228.02 L121.1 227.98 L121.36 227.93 L121.62 227.89 L121.88 227.84 L122.14 227.8 L122.4 227.76 L122.66 227.72 L122.91 227.67 L123.17 227.63 L123.43 227.59 L123.69 227.55 L123.95 227.51 L124.21 227.47 L124.47 227.43 L124.72 227.39 L124.98 227.36 L125.24 227.32 L125.5 227.28 L125.76 227.24 L126.02 227.21 L126.28 227.17 L126.53 227.14 L126.79 227.1 L127.05 227.07 L127.31 227.03 L127.57 227 L127.83 226.96 L128.09 226.93 L128.34 226.9 L128.6 226.86 L128.86 226.83 L129.12 226.8 L129.38 226.77 L129.64 226.73 L129.9 226.7 L130.15 226.67 L130.41 226.64 L130.67 226.61 L130.93 226.58 L131.19 226.55 L131.45 226.52 L131.71 226.49 L131.96 226.46 L132.22 226.43 L132.48 226.4 L132.74 226.38 L133 226.35 L133.26 226.32 L133.52 226.29 L133.77 226.27 L134.03 226.24 L134.29 226.21 L134.55 226.18 L134.81 226.16 L135.07 226.13 L135.33 226.11 L135.58 226.08 L135.84 226.06 L136.1 226.03 L136.36 226.01 L136.62 225.98 L136.88 225.96 L137.14 225.93 L137.39 225.91 L137.65 225.88 L137.91 225.86 L138.17 225.84 L138.43 225.81 L138.69 225.79 L138.95 225.77 L139.2 225.74 L139.46 225.72 L139.72 225.7 L139.98 225.68 L140.24 225.66 L140.5 225.63 L140.76 225.61 L141.01 225.59 L141.27 225.57 L141.53 225.55 L141.79 225.53 L142.05 225.51 L142.31 225.49 L142.57 225.47 L142.82 225.44 L143.08 225.42 L143.34 225.4 L143.6 225.38 L143.86 225.37 L144.12 225.35 L144.38 225.33 L144.63 225.31 L144.89 225.29 L145.15 225.27 L145.41 225.25 L145.67 225.23 L145.93 225.21 L146.19 225.19 L146.44 225.18 L146.7 225.16 L146.96 225.14 L147.22 225.12 L147.48 225.1 L147.74 225.09 L148 225.07 L148.25 225.05 L148.51 225.03 L148.77 225.02 L149.03 225 L149.29 224.98 L149.55 224.97 L149.81 224.95 L150.06 224.93 L150.32 224.92 L150.58 224.9 L150.84 224.89 L151.1 224.87 L151.36 224.85 L151.62 224.84 L151.87 224.82 L152.13 224.81 L152.39 224.79 L152.65 224.78 L152.91 224.76 L153.17 224.74 L153.43 224.73 L153.68 224.71 L153.94 224.7 L154.2 224.68 L154.46 224.67 L154.72 224.66 L154.98 224.64 L155.24 224.63 L155.49 224.61 L155.75 224.6 L156.01 224.58 L156.27 224.57 L156.53 224.56 L156.79 224.54 L157.05 224.53 L157.3 224.51 L157.56 224.5 L157.82 224.49 L158.08 224.47 L158.34 224.46 L158.6 224.45 L158.86 224.43 L159.11 224.42 L159.37 224.41 L159.63 224.4 L159.89 224.38 L160.15 224.37 L160.41 224.36 L160.67 224.34 L160.92 224.33 L161.18 224.32 L161.44 224.31 L161.7 224.3 L161.96 224.28 L162.22 224.27 L162.48 224.26 L162.73 224.25 L162.99 224.23 L163.25 224.22 L163.51 224.21 L163.77 224.2 L164.03 224.19 L164.29 224.18 L164.54 224.16 L164.8 224.15 L165.06 224.14 L165.32 224.13 L165.58 224.12 L165.84 224.11 L166.1 224.1 L166.35 224.09 L166.61 224.08 L166.87 224.06 L167.13 224.05 L167.39 224.04 L167.65 224.03 L167.91 224.02 L168.16 224.01 L168.42 224 L168.68 223.99 L168.94 223.98 L169.2 223.97 L169.46 223.96 L169.72 223.95 L169.97 223.94 L170.23 223.93 L170.49 223.92 L170.75 223.91 L171.01 223.9 L171.27 223.89 L171.53 223.88 L171.78 223.87 L172.04 223.86 L172.3 223.85 L172.56 223.84 L172.82 223.83 L173.08 223.82 L173.34 223.81 L173.59 223.8 L173.85 223.79 L174.11 223.78 L174.37 223.77 L174.63 223.76 L174.89 223.75 L175.15 223.74 L175.4 223.74 L175.66 223.73 L175.92 223.72 L176.18 223.71 L176.44 223.7 L176.7 223.69 L176.96 223.68 L177.21 223.67 L177.47 223.66 L177.73 223.66 L177.99 223.65 L178.25 223.64 L178.51 223.63 L178.77 223.62 L179.02 223.61 L179.28 223.6 L179.54 223.6 L179.8 223.59 L180.06 223.58 L180.32 223.57 L180.58 223.56 L180.83 223.55 L181.09 223.55 L181.35 223.54 L181.61 223.53 L181.87 223.52 L182.13 223.51 L182.39 223.51 L182.64 223.5 L182.9 223.49 L183.16 223.48 L183.42 223.48 L183.68 223.47 L183.94 223.46 L184.2 223.45 L184.45 223.44 L184.71 223.44 L184.97 223.43 L185.23 223.42 L185.49 223.41 L185.75 223.41 L186.01 223.4 L186.26 223.39 L186.52 223.38 L186.78 223.38 L187.04 223.37 L187.3 223.36 L187.56 223.36 L187.82 223.35 L188.07 223.34 L188.33 223.33 L188.59 223.33 L188.85 223.32 L189.11 223.31 L189.37 223.31 L189.63 223.3 L189.88 223.29 L190.14 223.28 L190.4 223.28 L190.66 223.27 L190.92 223.26 L191.18 223.26 L191.44 223.25 L191.69 223.24 L191.95 223.24 L192.21 223.23 L192.47 223.22 L192.73 223.22 L192.99 223.21 L193.25 223.2 L193.5 223.2 L193.76 223.19 L194.02 223.19 L194.28 223.18 L194.54 223.17 L194.8 223.17 L195.06 223.16 L195.31 223.15 L195.57 223.15 L195.83 223.14 L196.09 223.13 L196.35 223.13 L196.61 223.12 L196.87 223.12 L197.12 223.11 L197.38 223.1 L197.64 223.1 L197.9 223.09 L198.16 223.09 L198.42 223.08 L198.68 223.07 L198.93 223.07 L199.19 223.06 L199.45 223.06 L199.71 223.05 L199.97 223.04 L200.23 223.04 L200.49 223.03 L200.74 223.03 L201 223.02 L201.26 223.02 L201.52 223.01 L201.78 223 L202.04 223 L202.3 222.99 L202.55 222.99 L202.81 222.98 L203.07 222.98 L203.33 222.97 L203.59 222.96 L203.85 222.96 L204.11 222.95 L204.36 222.95 L204.62 222.94 L204.88 222.94 L205.14 222.93 L205.4 222.93 L205.66 222.92 L205.91 222.92 L206.17 222.91 L206.43 222.91 L206.69 222.9 L206.95 222.9 L207.21 222.89 L207.47 222.88 L207.72 222.88 L207.98 222.87 L208.24 222.87 L208.5 222.86 L208.76 222.86 L209.02 222.85 L209.28 222.85 L209.53 222.84 L209.79 222.84 L210.05 222.83 L210.31 222.83 L210.57 222.82 L210.83 222.82 L211.09 222.81 L211.34 222.81 L211.6 222.8 L211.86 222.8 L212.12 222.79 L212.38 222.79 L212.64 222.79 L212.9 222.78 L213.15 222.78 L213.41 222.77 L213.67 222.77 L213.93 222.76 L214.19 222.76 L214.45 222.75 L214.71 222.75 L214.96 222.74 L215.22 222.74 L215.48 222.73 L215.74 222.73 L216 222.72 L216.26 222.72 L216.52 222.72 L216.77 222.71 L217.03 222.71 L217.29 222.7 L217.55 222.7 L217.81 222.69 L218.07 222.69 L218.33 222.68 L218.58 222.68 L218.84 222.68 L219.1 222.67 L219.36 222.67 L219.62 222.66 L219.88 222.66 L220.14 222.65 L220.39 222.65 L220.65 222.64 L220.91 222.64 L221.17 222.64 L221.43 222.63 L221.69 222.63 L221.95 222.62 L222.2 222.62 L222.46 222.62 L222.72 222.61 L222.98 222.61 L223.24 222.6 L223.5 222.6 L223.76 222.59 L224.01 222.59 L224.27 222.59 L224.53 222.58 L224.79 222.58 L225.05 222.57 L225.31 222.57 L225.57 222.57 L225.82 222.56 L226.08 222.56 L226.34 222.55 L226.6 222.55 L226.86 222.55 L227.12 222.54 L227.38 222.54 L227.63 222.53 L227.89 222.53 L228.15 222.53 L228.41 222.52 L228.67 222.52 L228.93 222.52 L229.19 222.51 L229.44 222.51 L229.7 222.5 L229.96 222.5 L230.22 222.5 L230.48 222.49 L230.74 222.49 L231 222.49 L231.25 222.48 L231.51 222.48 L231.77 222.47 L232.03 222.47 L232.29 222.47 L232.55 222.46 L232.81 222.46 L233.06 222.46 L233.32 222.45 L233.58 222.45 L233.84 222.45 L234.1 222.44 L234.36 222.44 L234.62 222.43 L234.87 222.43 L235.13 222.43 L235.39 222.42 L235.65 222.42 L235.91 222.42 L236.17 222.41 L236.43 222.41 L236.68 222.41 L236.94 222.4 L237.2 222.4 L237.46 222.4 L237.72 222.39 L237.98 222.39 L238.24 222.39 L238.49 222.38 L238.75 222.38 L239.01 222.38 L239.27 222.37 L239.53 222.37 L239.79 222.37 L240.05 222.36 L240.3 222.36 L240.56 222.36 L240.82 222.35 L241.08 222.35 L241.34 222.35 L241.6 222.34 L241.86 222.34 L242.11 222.34 L242.37 222.33 L242.63 222.33 L242.89 222.33 L243.15 222.32 L243.41 222.32 L243.67 222.32 L243.92 222.31 L244.18 222.31 L244.44 222.31 L244.7 222.3 L244.96 222.3 L245.22 222.3 L245.48 222.29 L245.73 222.29 L245.99 222.29 L246.25 222.29 L246.51 222.28 L246.77 222.28 L247.03 222.28 L247.29 222.27 L247.54 222.27 L247.8 222.27 L248.06 222.26 L248.32 222.26 L248.58 222.26 L248.84 222.26 L249.1 222.25 L249.35 222.25 L249.61 222.25 L249.87 222.24 L250.13 222.24 L250.39 222.24 L250.65 222.23 L250.91 222.23 L251.16 222.23 L251.42 222.23 L251.68 222.22 L251.94 222.22 L252.2 222.22 L252.46 222.21 L252.72 222.21 L252.97 222.21 L253.23 222.21 L253.49 222.2 L253.75 222.2 L254.01 222.2 L254.27 222.19 L254.53 222.19 L254.78 222.19 L255.04 222.19 L255.3 222.18 L255.56 222.18 L255.82 222.18 L256.08 222.17 L256.34 222.17 L256.59 222.17 L256.85 222.17 L257.11 222.16 L257.37 222.16 L257.63 222.16 L257.89 222.16 L258.15 222.15 L258.4 222.15 L258.66 222.15 L258.92 222.15 L259.18 222.14 L259.44 222.14 L259.7 222.14 L259.96 222.13 L260.21 222.13 L260.47 222.13 L260.73 222.13 L260.99 222.12 L261.25 222.12 L261.51 222.12 L261.77 222.12 L262.02 222.11 L262.28 222.11 L262.54 222.11 L262.8 222.11 L263.06 222.1 L263.32 222.1 L263.58 222.1 L263.83 222.1 L264.09 222.09 L264.35 222.09 L264.61 222.09 L264.87 222.09 L265.13 222.08 L265.39 222.08 L265.64 222.08 L265.9 222.08 L266.16 222.07 L266.42 222.07 L266.68 222.07 L266.94 222.07 L267.2 222.06 L267.45 222.06 L267.71 222.06 L267.97 222.06 L268.23 222.05 L268.49 222.05 L268.75 222.05 L269.01 222.05 L269.26 222.04 L269.52 222.04 L269.78 222.04 L270.04 222.04 L270.3 222.03 L270.56 222.03 L270.82 222.03 L271.07 222.03 L271.33 222.03 L271.59 222.02 L271.85 222.02 L272.11 222.02 L272.37 222.02 L272.63 222.01 L272.88 222.01 L273.14 222.01 L273.4 222.01 L273.66 222 L273.92 222 L274.18 222 L274.44 222 L274.69 222 L274.95 221.99 L275.21 221.99 L275.47 221.99 L275.73 221.99 L275.99 221.98 L276.25 221.98 L276.5 221.98 L276.76 221.98 L277.02 221.98 L277.28 221.97 L277.54 221.97 L277.8 221.97 L278.06 221.97 L278.31 221.96 L278.57 221.96 L278.83 221.96 L279.09 221.96 L279.35 221.96 L279.61 221.95 L279.87 221.95 L280.12 221.95 L280.38 221.95 L280.64 221.94 L280.9 221.94 L281.16 221.94 L281.42 221.94 L281.68 221.94 L281.93 221.93 L282.19 221.93 L282.45 221.93 L282.71 221.93 L282.97 221.93 L283.23 221.92 L283.49 221.92 L283.74 221.92 L284 221.92 L284.26 221.92 L284.52 221.91 L284.78 221.91 L285.04 221.91 L285.3 221.91 L285.55 221.91 L285.81 221.9 L286.07 221.9 L286.33 221.9 L286.59 221.9 L286.85 221.9 L287.11 221.89 L287.36 221.89 L287.62 221.89 L287.88 221.89 L288.14 221.89 L288.4 221.88 L288.66 221.88 L288.92 221.88 L289.17 221.88 L289.43 221.88 L289.69 221.87 L289.95 221.87 L290.21 221.87 L290.47 221.87 L290.73 221.87 L290.98 221.86 L291.24 221.86 L291.5 221.86 L291.76 221.86 L292.02 221.86 L292.28 221.85 L292.54 221.85 L292.79 221.85 L293.05 221.85 L293.31 221.85 L293.57 221.84 L293.83 221.84 L294.09 221.84 L294.35 221.84 L294.6 221.84 L294.86 221.84 L295.12 221.83 L295.38 221.83 L295.64 221.83 L295.9 221.83 L296.16 221.83 L296.41 221.82 L296.67 221.82 L296.93 221.82 L297.19 221.82 L297.45 221.82 L297.71 221.81 L297.97 221.81 L298.22 221.81 L298.48 221.81 L298.74 221.81 L299 221.81 L299.26 221.8 L299.52 221.8 L299.78 221.8 L300.03 221.8 L300.29 221.8 L300.55 221.8 L300.81 221.79 L301.07 221.79 L301.33 221.79 L301.59 221.79 L301.84 221.79 L302.1 221.78 L302.36 221.78 L302.62 221.78 L302.88 221.78 L303.14 221.78 L303.4 221.78 L303.65 221.77 L303.91 221.77 L304.17 221.77 L304.43 221.77 L304.69 221.77 L304.95 221.77 L305.21 221.76 L305.46 221.76 L305.72 221.76 L305.98 221.76 L306.24 221.76 L306.5 221.76 L306.76 221.75 L307.02 221.75 L307.27 221.75 L307.53 221.75 L307.79 221.75 L308.05 221.75 L308.31 221.74 L308.57 221.74 L308.83 221.74 L309.08 221.74 L309.34 221.74 L309.6 221.74 L309.86 221.73 L310.12 221.73 L310.38 221.73 L310.64 221.73 L310.89 221.73 L311.15 221.73 L311.41 221.72 L311.67 221.72 L311.93 221.72 L312.19 221.72 L312.45 221.72 L312.7 221.72 L312.96 221.71 L313.22 221.71 L313.48 221.71 L313.74 221.71 L314 221.71 L314.26 221.71 L314.51 221.71 L314.77 221.7 L315.03 221.7 L315.29 221.7 L315.55 221.7 L315.81 221.7 L316.07 221.7 L316.32 221.69 L316.58 221.69 L316.84 221.69 L317.1 221.69 L317.36 221.69 L317.62 221.69 L317.88 221.69 L318.13 221.68 L318.39 221.68 L318.65 221.68 L318.91 221.68 L319.17 221.68 L319.43 221.68 L319.69 221.67 L319.94 221.67 L320.2 221.67 L320.46 221.67 L320.72 221.67 L320.98 221.67 L321.24 221.67 L321.5 221.66 L321.75 221.66 L322.01 221.66 L322.27 221.66 L322.53 221.66 L322.79 221.66 L323.05 221.66 L323.31 221.65 L323.56 221.65 L323.82 221.65 L324.08 221.65 L324.34 221.65 L324.6 221.65 L324.86 221.65 L325.12 221.64 L325.37 221.64 L325.63 221.64 L325.89 221.64 L326.15 221.64 L326.41 221.64 L326.67 221.64 L326.93 221.63 L327.18 221.63 L327.44 221.63 L327.7 221.63 L327.96 221.63 L328.22 221.63 L328.48 221.63 L328.74 221.62 L328.99 221.62 L329.25 221.62 L329.51 221.62 L329.77 221.62 L330.03 221.62 L330.29 221.62 L330.55 221.61 L330.8 221.61 L331.06 221.61 L331.32 221.61 L331.58 221.61 L331.84 221.61 L332.1 221.61 L332.36 221.6 L332.61 221.6 L332.87 221.6 L333.13 221.6 L333.39 221.6 L333.65 221.6 L333.91 221.6 L334.17 221.6 L334.42 221.59 L334.68 221.59 L334.94 221.59 L335.2 221.59" stroke="#ff0000" stroke-width="0.65" fill="none" stroke-linejoin="round"/>
<path d="M206.22 352.9 L206.43 350.77 L206.69 348.2 L206.95 345.68 L207.21 343.22 L207.47 340.81 L207.72 338.45 L207.98 336.15 L208.24 333.89 L208.5 331.68 L208.76 329.52 L209.02 327.41 L209.28 325.34 L209.53 323.31 L209.79 321.33 L210.05 319.38 L210.31 317.48 L210.57 315.62 L210.83 313.8 L211.09 312.02 L211.34 310.27 L211.6 308.56 L211.86 306.89 L212.12 305.25 L212.38 303.65 L212.64 302.07 L212.9 300.53 L213.15 299.03 L213.41 297.55 L213.67 296.1 L213.93 294.69 L214.19 293.3 L214.45 291.94 L214.71 290.61 L214.96 289.31 L215.22 288.03 L215.48 286.78 L215.74 285.55 L216 284.35 L216.26 283.17 L216.52 282.02 L216.77 280.89 L217.03 279.78 L217.29 278.7 L217.55 277.64 L217.81 276.59 L218.07 275.57 L218.33 274.57 L218.58 273.59 L218.84 272.63 L219.1 271.69 L219.36 270.76 L219.62 269.86 L219.88 268.97 L220.14 268.1 L220.39 267.24 L220.65 266.41 L220.91 265.59 L221.17 264.78 L221.43 263.99 L221.69 263.22 L221.95 262.46 L222.2 261.72 L222.46 260.99 L222.72 260.27 L222.98 259.57 L223.24 258.89 L223.5 258.21 L223.76 257.55 L224.01 256.9 L224.27 256.26 L224.53 255.64 L224.79 255.03 L225.05 254.43 L225.31 253.84 L225.57 253.26 L225.82 252.69 L226.08 252.13 L226.34 251.59 L226.6 251.05 L226.86 250.53 L227.12 250.01 L227.38 249.5 L227.63 249.01 L227.89 248.52 L228.15 248.04 L228.41 247.57 L228.67 247.11 L228.93 246.66 L229.19 246.21 L229.44 245.78 L229.7 245.35 L229.96 244.93 L230.22 244.52 L230.48 244.11 L230.74 243.72 L231 243.33 L231.25 242.94 L231.51 242.57 L231.77 242.2 L232.03 241.84 L232.29 241.48 L232.55 241.13 L232.81 240.79 L233.06 240.45 L233.32 240.12 L233.58 239.8 L233.84 239.48 L234.1 239.16 L234.36 238.86 L234.62 238.56 L234.87 238.26 L235.13 237.97 L235.39 237.68 L235.65 237.4 L235.91 237.12 L236.17 236.85 L236.43 236.59 L236.68 236.32 L236.94 236.07 L237.2 235.81 L237.46 235.57 L237.72 235.32 L237.98 235.08 L238.24 234.85 L238.49 234.62 L238.75 234.39 L239.01 234.17 L239.27 233.95 L239.53 233.73 L239.79 233.52 L240.05 233.31 L240.3 233.11 L240.56 232.9 L240.82 232.71 L241.08 232.51 L241.34 232.32 L241.6 232.13 L241.86 231.95 L242.11 231.77 L242.37 231.59 L242.63 231.41 L242.89 231.24 L243.15 231.07 L243.41 230.91 L243.67 230.74 L243.92 230.58 L244.18 230.42 L244.44 230.27 L244.7 230.12 L244.96 229.97 L245.22 229.82 L245.48 229.67 L245.73 229.53 L245.99 229.39 L246.25 229.25 L246.51 229.11 L246.77 228.98 L247.03 228.85 L247.29 228.72 L247.54 228.59 L247.8 228.47 L248.06 228.35 L248.32 228.22 L248.58 228.11 L248.84 227.99 L249.1 227.87 L249.35 227.76 L249.61 227.65 L249.87 227.54 L250.13 227.43 L250.39 227.33 L250.65 227.22 L250.91 227.12 L251.16 227.02 L251.42 226.92 L251.68 226.82 L251.94 226.73 L252.2 226.63 L252.46 226.54 L252.72 226.45 L252.97 226.36 L253.23 226.27 L253.49 226.18 L253.75 226.09 L254.01 226.01 L254.27 225.93 L254.53 225.85 L254.78 225.77 L255.04 225.69 L255.3 225.61 L255.56 225.53 L255.82 225.46 L256.08 225.38 L256.34 225.31 L256.59 225.24 L256.85 225.17 L257.11 225.1 L257.37 225.03 L257.63 224.96 L257.89 224.89 L258.15 224.83 L258.4 224.76 L258.66 224.7 L258.92 224.64 L259.18 224.58 L259.44 224.51 L259.7 224.45 L259.96 224.4 L260.21 224.34 L260.47 224.28 L260.73 224.23 L260.99 224.17 L261.25 224.12 L261.51 224.06 L261.77 224.01 L262.02 223.96 L262.28 223.91 L262.54 223.86 L262.8 223.81 L263.06 223.76 L263.32 223.71 L263.58 223.66 L263.83 223.62 L264.09 223.57 L264.35 223.52 L264.61 223.48 L264.87 223.44 L265.13 223.39 L265.39 223.35 L265.64 223.31 L265.9 223.27 L266.16 223.23 L266.42 223.19 L266.68 223.15 L266.94 223.11 L267.2 223.07 L267.45 223.03 L267.71 222.99 L267.97 222.96 L268.23 222.92 L268.49 222.89 L268.75 222.85 L269.01 222.82 L269.26 222.78 L269.52 222.75 L269.78 222.72 L270.04 222.68 L270.3 222.65 L270.56 222.62 L270.82 222.59 L271.07 222.56 L271.33 222.53 L271.59 222.5 L271.85 222.47 L272.11 222.44 L272.37 222.41 L272.63 222.38 L272.88 222.35 L273.14 222.33 L273.4 222.3 L273.66 222.27 L273.92 222.25 L274.18 222.22 L274.44 222.2 L274.69 222.17 L274.95 222.15 L275.21 222.12 L275.47 222.1 L275.73 222.07 L275.99 222.05 L276.25 222.03 L276.5 222 L276.76 221.98 L277.02 221.96 L277.28 221.94 L277.54 221.92 L277.8 221.9 L278.06 221.88 L278.31 221.85 L278.57 221.83 L278.83 221.81 L279.09 221.79 L279.35 221.78 L279.61 221.76 L279.87 221.74 L280.12 221.72 L280.38 221.7 L280.64 221.68 L280.9 221.66 L281.16 221.65 L281.42 221.63 L281.68 221.61 L281.93 221.6 L282.19 221.58 L282.45 221.56 L282.71 221.55 L282.97 221.53 L283.23 221.51 L283.49 221.5 L283.74 221.48 L284 221.47 L284.26 221.45 L284.52 221.44 L284.78 221.42 L285.04 221.41 L285.3 221.4 L285.55 221.38 L285.81 221.37 L286.07 221.35 L286.33 221.34 L286.59 221.33 L286.85 221.32 L287.11 221.3 L287.36 221.29 L287.62 221.28 L287.88 221.26 L288.14 221.25 L288.4 221.24 L288.66 221.23 L288.92 221.22 L289.17 221.21 L289.43 221.19 L289.69 221.18 L289.95 221.17 L290.21 221.16 L290.47 221.15 L290.73 221.14 L290.98 221.13 L291.24 221.12 L291.5 221.11 L291.76 221.1 L292.02 221.09 L292.28 221.08 L292.54 221.07 L292.79 221.06 L293.05 221.05 L293.31 221.04 L293.57 221.03 L293.83 221.02 L294.09 221.01 L294.35 221 L294.6 221 L294.86 220.99 L295.12 220.98 L295.38 220.97 L295.64 220.96 L295.9 220.95 L296.16 220.95 L296.41 220.94 L296.67 220.93 L296.93 220.92 L297.19 220.91 L297.45 220.91 L297.71 220.9 L297.97 220.89 L298.22 220.88 L298.48 220.88 L298.74 220.87 L299 220.86 L299.26 220.86 L299.52 220.85 L299.78 220.84 L300.03 220.84 L300.29 220.83 L300.55 220.82 L300.81 220.82 L301.07 220.81 L301.33 220.8 L301.59 220.8 L301.84 220.79 L302.1 220.79 L302.36 220.78 L302.62 220.77 L302.88 220.77 L303.14 220.76 L303.4 220.76 L303.65 220.75 L303.91 220.75 L304.17 220.74 L304.43 220.73 L304.69 220.73 L304.95 220.72 L305.21 220.72 L305.46 220.71 L305.72 220.71 L305.98 220.7 L306.24 220.7 L306.5 220.69 L306.76 220.69 L307.02 220.68 L307.27 220.68 L307.53 220.67 L307.79 220.67 L308.05 220.67 L308.31 220.66 L308.57 220.66 L308.83 220.65 L309.08 220.65 L309.34 220.64 L309.6 220.64 L309.86 220.64 L310.12 220.63 L310.38 220.63 L310.64 220.62 L310.89 220.62 L311.15 220.62 L311.41 220.61 L311.67 220.61 L311.93 220.6 L312.19 220.6 L312.45 220.6 L312.7 220.59 L312.96 220.59 L313.22 220.59 L313.48 220.58 L313.74 220.58 L314 220.58 L314.26 220.57 L314.51 220.57 L314.77 220.57 L315.03 220.56 L315.29 220.56 L315.55 220.56 L315.81 220.55 L316.07 220.55 L316.32 220.55 L316.58 220.54 L316.84 220.54 L317.1 220.54 L317.36 220.53 L317.62 220.53 L317.88 220.53 L318.13 220.53 L318.39 220.52 L318.65 220.52 L318.91 220.52 L319.17 220.52 L319.43 220.51 L319.69 220.51 L319.94 220.51 L320.2 220.5 L320.46 220.5 L320.72 220.5 L320.98 220.5 L321.24 220.49 L321.5 220.49 L321.75 220.49 L322.01 220.49 L322.27 220.49 L322.53 220.48 L322.79 220.48 L323.05 220.48 L323.31 220.48 L323.56 220.47 L323.82 220.47 L324.08 220.47 L324.34 220.47 L324.6 220.47 L324.86 220.46 L325.12 220.46 L325.37 220.46 L325.63 220.46 L325.89 220.46 L326.15 220.45 L326.41 220.45 L326.67 220.45 L326.93 220.45 L327.18 220.45 L327.44 220.44 L327.7 220.44 L327.96 220.44 L328.22 220.44 L328.48 220.44 L328.74 220.43 L328.99 220.43 L329.25 220.43 L329.51 220.43 L329.77 220.43 L330.03 220.43 L330.29 220.42 L330.55 220.42 L330.8 220.42 L331.06 220.42 L331.32 220.42 L331.58 220.42 L331.84 220.41 L332.1 220.41 L332.36 220.41 L332.61 220.41 L332.87 220.41 L333.13 220.41 L333.39 220.41 L333.65 220.4 L333.91 220.4 L334.17 220.4 L334.42 220.4 L334.68 220.4 L334.94 220.4 L335.2 220.4" stroke="#00bfbf" stroke-width="0.65" fill="none" stroke-linejoin="round"/>
<rect x="256.3" y="299" width="76.3" height="49.4" fill="#fff" stroke="#000" stroke-width="0.7"/>
<path d="M261.9 305.5 h26" stroke="#0000ff" stroke-width="0.55"/>
<path d="M261.9 317.4 h26" stroke="#008000" stroke-width="0.55"/>
<path d="M261.9 329.2 h26" stroke="#ff0000" stroke-width="0.55"/>
<path d="M261.9 341.1 h26" stroke="#00bfbf" stroke-width="0.55"/>
<path d="M76.98 149.85 V117.61" stroke="#006e6e" stroke-width="0.8" fill="none"/>
<path d="M76.98 304.09 V268.68" stroke="#004200" stroke-width="0.72" fill="none"/>
<g filter="url(#gs)"><g font-family="Liberation Sans, sans-serif" font-size="8.8" fill="#000" stroke="#000" stroke-width="0.22" text-rendering="geometricPrecision" transform="rotate(0.03 201 187)">
<text x="76.93" y="160.5" text-anchor="middle">0</text>
<text x="109.25" y="160.5" text-anchor="middle">5</text>
<text x="141.57" y="160.5" text-anchor="middle">10</text>
<text x="173.89" y="160.5" text-anchor="middle">15</text>
<text x="206.22" y="160.5" text-anchor="middle">20</text>
<text x="238.54" y="160.5" text-anchor="middle">25</text>
<text x="270.86" y="160.5" text-anchor="middle">30</text>
<text x="303.18" y="160.5" text-anchor="middle">35</text>
<text x="335.5" y="160.5" text-anchor="middle">40</text>
<text x="74.93" y="153.4" text-anchor="end">0</text>
<text x="74.93" y="132.46" text-anchor="end">5</text>
<text x="74.93" y="111.53" text-anchor="end">10</text>
<text x="74.93" y="90.59" text-anchor="end">15</text>
<text x="74.93" y="69.66" text-anchor="end">20</text>
<text x="74.93" y="48.72" text-anchor="end">25</text>
<text x="74.93" y="27.79" text-anchor="end">30</text>
<text x="74.93" y="6.85" text-anchor="end">35</text>
<text x="206.22" y="170.15" text-anchor="middle" font-size="8.4">wealth</text>
<text transform="translate(59.8 77.57) rotate(-90)" text-anchor="middle" font-size="8.2">utility</text>
<text x="113.6" y="18.85" font-size="8.4">delta=0.9</text>
<text x="113.6" y="30.6" font-size="8.4">delta=0.5</text>
<text x="113.6" y="42.1" font-size="8.4">delta=0.3</text>
<text x="113.6" y="53.95" font-size="8.4">delta=0.1</text>
<text x="76.93" y="363.9" text-anchor="middle">0</text>
<text x="128.64" y="363.9" text-anchor="middle">0.2</text>
<text x="180.36" y="363.9" text-anchor="middle">0.4</text>
<text x="232.07" y="363.9" text-anchor="middle">0.6</text>
<text x="283.79" y="363.9" text-anchor="middle">0.8</text>
<text x="335.5" y="363.9" text-anchor="middle">1</text>
<text x="77.43" y="356.6" text-anchor="end">−<tspan dx="-0.7">100</tspan></text>
<text x="77.43" y="329.57" text-anchor="end">−<tspan dx="-0.7">80</tspan></text>
<text x="77.43" y="303.05" text-anchor="end">−<tspan dx="-0.7">60</tspan></text>
<text x="77.43" y="276.52" text-anchor="end">−<tspan dx="-0.7">40</tspan></text>
<text x="77.43" y="249.99" text-anchor="end">−<tspan dx="-0.7">20</tspan></text>
<text x="74.83" y="223.46" text-anchor="end">0</text>
<text x="206.22" y="373.3" text-anchor="middle" font-size="8.4">wealth</text>
<text transform="translate(53 281.05) rotate(-90)" text-anchor="middle" font-size="8.2">utility</text>
<text x="291" y="309.1" font-size="8.4">delta=−0.1</text>
<text x="291" y="321" font-size="8.4">delta=−0.5</text>
<text x="291" y="332.8" font-size="8.4">delta=−1</text>
<text x="291" y="344.7" font-size="8.4">delta=−10</text>
</g></g></svg>
</body></html>
